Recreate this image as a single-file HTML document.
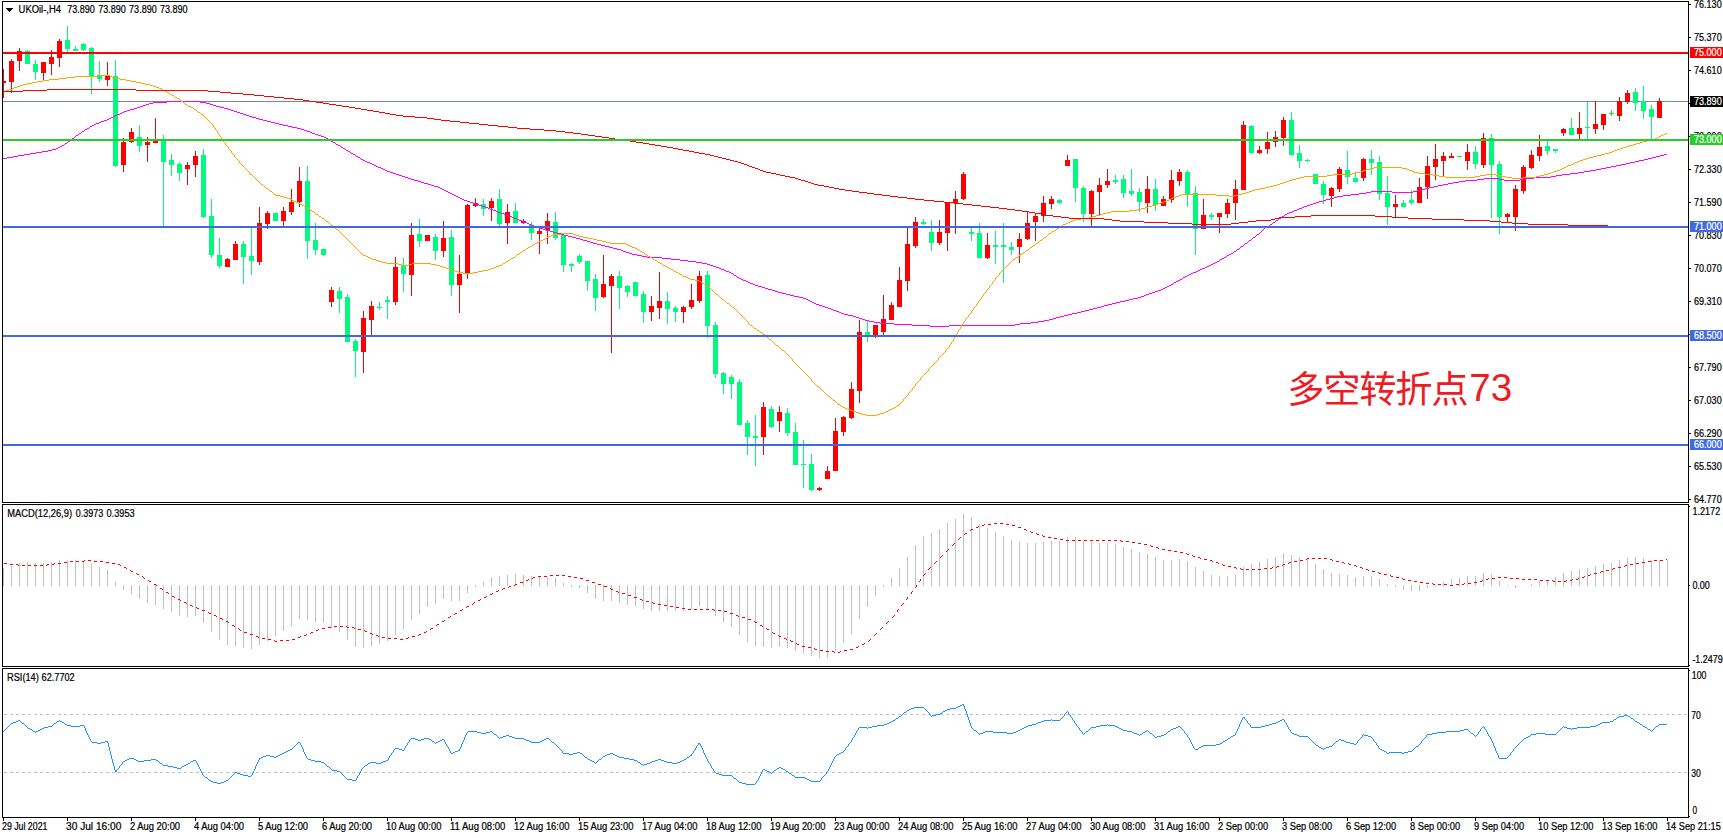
<!DOCTYPE html>
<html lang="zh"><head><meta charset="utf-8"><title>UKOil H4</title>
<style>html,body{margin:0;padding:0;background:#fff;overflow:hidden}svg{display:block}text{font-family:"Liberation Sans","Noto Sans CJK SC",sans-serif;font-size:10px;fill:#000;stroke:#000;stroke-width:.22px}.cn{font-family:"Liberation Sans","Noto Sans CJK SC",sans-serif;font-size:37.3px;font-weight:400;letter-spacing:-1.3px;fill:#ED1C24;stroke:none}.w{fill:#fff;stroke:#fff}</style></head><body>
<svg width="1723" height="838" viewBox="0 0 1723 838">
<rect width="1723" height="838" fill="#fff"/>
<g shape-rendering="crispEdges">
<rect x="3" y="101" width="1685" height="1" fill="#778899"/>
<rect x="3" y="69" width="1" height="29" fill="#FF0000"/>
<rect x="3" y="81" width="3" height="2" fill="#FF0000"/>
<rect x="11" y="59" width="1" height="34" fill="#FF0000"/>
<rect x="9" y="61" width="5" height="21" fill="#FF0000"/>
<rect x="19" y="48" width="1" height="23" fill="#FF0000"/>
<rect x="17" y="51" width="5" height="10" fill="#FF0000"/>
<rect x="27" y="50" width="1" height="14" fill="#00FA7D"/>
<rect x="25" y="51" width="5" height="13" fill="#00FA7D"/>
<rect x="35" y="60" width="1" height="20" fill="#00FA7D"/>
<rect x="33" y="64" width="5" height="8" fill="#00FA7D"/>
<rect x="43" y="62" width="1" height="19" fill="#FF0000"/>
<rect x="41" y="62" width="5" height="11" fill="#FF0000"/>
<rect x="51" y="50" width="1" height="25" fill="#FF0000"/>
<rect x="49" y="57" width="5" height="7" fill="#FF0000"/>
<rect x="59" y="39" width="1" height="28" fill="#FF0000"/>
<rect x="57" y="41" width="5" height="17" fill="#FF0000"/>
<rect x="67" y="26" width="1" height="26" fill="#00FA7D"/>
<rect x="65" y="40" width="5" height="9" fill="#00FA7D"/>
<rect x="75" y="46" width="1" height="4" fill="#00FA7D"/>
<rect x="73" y="49" width="5" height="2" fill="#00FA7D"/>
<rect x="83" y="43" width="1" height="8" fill="#00FA7D"/>
<rect x="81" y="44" width="5" height="6" fill="#00FA7D"/>
<rect x="91" y="47" width="1" height="47" fill="#00FA7D"/>
<rect x="89" y="48" width="5" height="28" fill="#00FA7D"/>
<rect x="99" y="61" width="1" height="21" fill="#00FA7D"/>
<rect x="97" y="75" width="5" height="4" fill="#00FA7D"/>
<rect x="107" y="62" width="1" height="24" fill="#FF0000"/>
<rect x="105" y="75" width="5" height="5" fill="#FF0000"/>
<rect x="115" y="60" width="1" height="107" fill="#00FA7D"/>
<rect x="113" y="76" width="5" height="90" fill="#00FA7D"/>
<rect x="123" y="138" width="1" height="34" fill="#FF0000"/>
<rect x="121" y="142" width="5" height="23" fill="#FF0000"/>
<rect x="131" y="128" width="1" height="15" fill="#FF0000"/>
<rect x="129" y="132" width="5" height="10" fill="#FF0000"/>
<rect x="139" y="125" width="1" height="27" fill="#00FA7D"/>
<rect x="137" y="137" width="5" height="9" fill="#00FA7D"/>
<rect x="147" y="137" width="1" height="25" fill="#FF0000"/>
<rect x="145" y="142" width="5" height="3" fill="#FF0000"/>
<rect x="155" y="118" width="1" height="25" fill="#FF0000"/>
<rect x="153" y="141" width="5" height="2" fill="#FF0000"/>
<rect x="163" y="135" width="1" height="91" fill="#00FA7D"/>
<rect x="161" y="140" width="5" height="22" fill="#00FA7D"/>
<rect x="171" y="154" width="1" height="22" fill="#00FA7D"/>
<rect x="169" y="160" width="5" height="5" fill="#00FA7D"/>
<rect x="179" y="162" width="1" height="19" fill="#00FA7D"/>
<rect x="177" y="164" width="5" height="9" fill="#00FA7D"/>
<rect x="187" y="162" width="1" height="23" fill="#FF0000"/>
<rect x="185" y="165" width="5" height="4" fill="#FF0000"/>
<rect x="195" y="151" width="1" height="26" fill="#FF0000"/>
<rect x="193" y="156" width="5" height="9" fill="#FF0000"/>
<rect x="203" y="149" width="1" height="69" fill="#00FA7D"/>
<rect x="201" y="155" width="5" height="62" fill="#00FA7D"/>
<rect x="211" y="199" width="1" height="59" fill="#00FA7D"/>
<rect x="209" y="216" width="5" height="39" fill="#00FA7D"/>
<rect x="219" y="238" width="1" height="30" fill="#00FA7D"/>
<rect x="217" y="255" width="5" height="11" fill="#00FA7D"/>
<rect x="227" y="258" width="1" height="9" fill="#FF0000"/>
<rect x="225" y="259" width="5" height="8" fill="#FF0000"/>
<rect x="235" y="241" width="1" height="19" fill="#FF0000"/>
<rect x="233" y="244" width="5" height="16" fill="#FF0000"/>
<rect x="243" y="241" width="1" height="43" fill="#00FA7D"/>
<rect x="241" y="244" width="5" height="13" fill="#00FA7D"/>
<rect x="251" y="228" width="1" height="47" fill="#00FA7D"/>
<rect x="249" y="256" width="5" height="5" fill="#00FA7D"/>
<rect x="259" y="207" width="1" height="58" fill="#FF0000"/>
<rect x="257" y="223" width="5" height="39" fill="#FF0000"/>
<rect x="267" y="211" width="1" height="18" fill="#FF0000"/>
<rect x="265" y="213" width="5" height="11" fill="#FF0000"/>
<rect x="275" y="213" width="1" height="8" fill="#00FA7D"/>
<rect x="273" y="213" width="5" height="8" fill="#00FA7D"/>
<rect x="283" y="207" width="1" height="19" fill="#FF0000"/>
<rect x="281" y="211" width="5" height="10" fill="#FF0000"/>
<rect x="291" y="189" width="1" height="26" fill="#FF0000"/>
<rect x="289" y="202" width="5" height="10" fill="#FF0000"/>
<rect x="299" y="167" width="1" height="40" fill="#FF0000"/>
<rect x="297" y="181" width="5" height="21" fill="#FF0000"/>
<rect x="307" y="166" width="1" height="93" fill="#00FA7D"/>
<rect x="305" y="181" width="5" height="60" fill="#00FA7D"/>
<rect x="315" y="223" width="1" height="32" fill="#00FA7D"/>
<rect x="313" y="240" width="5" height="10" fill="#00FA7D"/>
<rect x="323" y="249" width="1" height="7" fill="#00FA7D"/>
<rect x="321" y="249" width="5" height="6" fill="#00FA7D"/>
<rect x="331" y="287" width="1" height="20" fill="#FF0000"/>
<rect x="329" y="290" width="5" height="12" fill="#FF0000"/>
<rect x="339" y="287" width="1" height="26" fill="#00FA7D"/>
<rect x="337" y="291" width="5" height="8" fill="#00FA7D"/>
<rect x="347" y="294" width="1" height="48" fill="#00FA7D"/>
<rect x="345" y="297" width="5" height="45" fill="#00FA7D"/>
<rect x="355" y="339" width="1" height="38" fill="#00FA7D"/>
<rect x="353" y="341" width="5" height="10" fill="#00FA7D"/>
<rect x="363" y="311" width="1" height="62" fill="#FF0000"/>
<rect x="361" y="318" width="5" height="34" fill="#FF0000"/>
<rect x="371" y="301" width="1" height="34" fill="#FF0000"/>
<rect x="369" y="306" width="5" height="14" fill="#FF0000"/>
<rect x="379" y="302" width="1" height="8" fill="#00FA7D"/>
<rect x="377" y="307" width="5" height="1" fill="#00FA7D"/>
<rect x="387" y="296" width="1" height="23" fill="#00FA7D"/>
<rect x="385" y="300" width="5" height="2" fill="#00FA7D"/>
<rect x="395" y="257" width="1" height="48" fill="#FF0000"/>
<rect x="393" y="267" width="5" height="35" fill="#FF0000"/>
<rect x="403" y="258" width="1" height="34" fill="#00FA7D"/>
<rect x="401" y="265" width="5" height="9" fill="#00FA7D"/>
<rect x="411" y="223" width="1" height="73" fill="#FF0000"/>
<rect x="409" y="235" width="5" height="40" fill="#FF0000"/>
<rect x="419" y="219" width="1" height="28" fill="#00FA7D"/>
<rect x="417" y="234" width="5" height="7" fill="#00FA7D"/>
<rect x="427" y="235" width="1" height="6" fill="#FF0000"/>
<rect x="425" y="235" width="5" height="6" fill="#FF0000"/>
<rect x="435" y="234" width="1" height="26" fill="#00FA7D"/>
<rect x="433" y="237" width="5" height="14" fill="#00FA7D"/>
<rect x="443" y="221" width="1" height="36" fill="#FF0000"/>
<rect x="441" y="238" width="5" height="13" fill="#FF0000"/>
<rect x="451" y="230" width="1" height="66" fill="#00FA7D"/>
<rect x="449" y="237" width="5" height="48" fill="#00FA7D"/>
<rect x="459" y="255" width="1" height="58" fill="#FF0000"/>
<rect x="457" y="274" width="5" height="11" fill="#FF0000"/>
<rect x="467" y="204" width="1" height="75" fill="#FF0000"/>
<rect x="465" y="205" width="5" height="69" fill="#FF0000"/>
<rect x="475" y="198" width="1" height="9" fill="#FF0000"/>
<rect x="473" y="203" width="5" height="3" fill="#FF0000"/>
<rect x="483" y="199" width="1" height="17" fill="#00FA7D"/>
<rect x="481" y="204" width="5" height="5" fill="#00FA7D"/>
<rect x="491" y="198" width="1" height="23" fill="#FF0000"/>
<rect x="489" y="201" width="5" height="7" fill="#FF0000"/>
<rect x="499" y="189" width="1" height="37" fill="#00FA7D"/>
<rect x="497" y="199" width="5" height="25" fill="#00FA7D"/>
<rect x="507" y="204" width="1" height="40" fill="#FF0000"/>
<rect x="505" y="212" width="5" height="11" fill="#FF0000"/>
<rect x="515" y="203" width="1" height="20" fill="#00FA7D"/>
<rect x="513" y="211" width="5" height="12" fill="#00FA7D"/>
<rect x="523" y="219" width="1" height="5" fill="#FF0000"/>
<rect x="521" y="221" width="5" height="2" fill="#FF0000"/>
<rect x="531" y="222" width="1" height="18" fill="#00FA7D"/>
<rect x="529" y="225" width="5" height="8" fill="#00FA7D"/>
<rect x="539" y="228" width="1" height="26" fill="#FF0000"/>
<rect x="537" y="231" width="5" height="3" fill="#FF0000"/>
<rect x="547" y="213" width="1" height="31" fill="#FF0000"/>
<rect x="545" y="221" width="5" height="9" fill="#FF0000"/>
<rect x="555" y="212" width="1" height="28" fill="#00FA7D"/>
<rect x="553" y="222" width="5" height="16" fill="#00FA7D"/>
<rect x="563" y="235" width="1" height="37" fill="#00FA7D"/>
<rect x="561" y="235" width="5" height="30" fill="#00FA7D"/>
<rect x="571" y="263" width="1" height="9" fill="#00FA7D"/>
<rect x="569" y="264" width="5" height="2" fill="#00FA7D"/>
<rect x="579" y="254" width="1" height="10" fill="#00FA7D"/>
<rect x="577" y="256" width="5" height="6" fill="#00FA7D"/>
<rect x="587" y="261" width="1" height="30" fill="#00FA7D"/>
<rect x="585" y="261" width="5" height="20" fill="#00FA7D"/>
<rect x="595" y="274" width="1" height="37" fill="#00FA7D"/>
<rect x="593" y="279" width="5" height="19" fill="#00FA7D"/>
<rect x="603" y="255" width="1" height="43" fill="#FF0000"/>
<rect x="601" y="284" width="5" height="13" fill="#FF0000"/>
<rect x="611" y="274" width="1" height="79" fill="#FF0000"/>
<rect x="609" y="276" width="5" height="10" fill="#FF0000"/>
<rect x="619" y="271" width="1" height="38" fill="#00FA7D"/>
<rect x="617" y="276" width="5" height="12" fill="#00FA7D"/>
<rect x="627" y="285" width="1" height="12" fill="#00FA7D"/>
<rect x="625" y="286" width="5" height="6" fill="#00FA7D"/>
<rect x="635" y="282" width="1" height="14" fill="#00FA7D"/>
<rect x="633" y="282" width="5" height="14" fill="#00FA7D"/>
<rect x="643" y="291" width="1" height="32" fill="#00FA7D"/>
<rect x="641" y="294" width="5" height="18" fill="#00FA7D"/>
<rect x="651" y="296" width="1" height="25" fill="#FF0000"/>
<rect x="649" y="306" width="5" height="6" fill="#FF0000"/>
<rect x="659" y="272" width="1" height="47" fill="#FF0000"/>
<rect x="657" y="301" width="5" height="7" fill="#FF0000"/>
<rect x="667" y="292" width="1" height="32" fill="#00FA7D"/>
<rect x="665" y="301" width="5" height="8" fill="#00FA7D"/>
<rect x="675" y="306" width="1" height="16" fill="#00FA7D"/>
<rect x="673" y="308" width="5" height="4" fill="#00FA7D"/>
<rect x="683" y="306" width="1" height="17" fill="#FF0000"/>
<rect x="681" y="307" width="5" height="5" fill="#FF0000"/>
<rect x="691" y="284" width="1" height="25" fill="#FF0000"/>
<rect x="689" y="300" width="5" height="7" fill="#FF0000"/>
<rect x="699" y="271" width="1" height="32" fill="#FF0000"/>
<rect x="697" y="276" width="5" height="25" fill="#FF0000"/>
<rect x="707" y="271" width="1" height="67" fill="#00FA7D"/>
<rect x="705" y="275" width="5" height="51" fill="#00FA7D"/>
<rect x="715" y="322" width="1" height="56" fill="#00FA7D"/>
<rect x="713" y="325" width="5" height="49" fill="#00FA7D"/>
<rect x="723" y="372" width="1" height="22" fill="#00FA7D"/>
<rect x="721" y="373" width="5" height="11" fill="#00FA7D"/>
<rect x="731" y="375" width="1" height="24" fill="#00FA7D"/>
<rect x="729" y="377" width="5" height="7" fill="#00FA7D"/>
<rect x="739" y="379" width="1" height="46" fill="#00FA7D"/>
<rect x="737" y="382" width="5" height="43" fill="#00FA7D"/>
<rect x="747" y="420" width="1" height="35" fill="#00FA7D"/>
<rect x="745" y="423" width="5" height="14" fill="#00FA7D"/>
<rect x="755" y="415" width="1" height="51" fill="#00FA7D"/>
<rect x="753" y="436" width="5" height="2" fill="#00FA7D"/>
<rect x="763" y="402" width="1" height="53" fill="#FF0000"/>
<rect x="761" y="407" width="5" height="30" fill="#FF0000"/>
<rect x="771" y="406" width="1" height="22" fill="#00FA7D"/>
<rect x="769" y="409" width="5" height="18" fill="#00FA7D"/>
<rect x="779" y="406" width="1" height="26" fill="#FF0000"/>
<rect x="777" y="412" width="5" height="9" fill="#FF0000"/>
<rect x="787" y="408" width="1" height="28" fill="#00FA7D"/>
<rect x="785" y="413" width="5" height="20" fill="#00FA7D"/>
<rect x="795" y="423" width="1" height="42" fill="#00FA7D"/>
<rect x="793" y="432" width="5" height="33" fill="#00FA7D"/>
<rect x="803" y="440" width="1" height="48" fill="#00FA7D"/>
<rect x="801" y="464" width="5" height="1" fill="#00FA7D"/>
<rect x="811" y="454" width="1" height="37" fill="#00FA7D"/>
<rect x="809" y="464" width="5" height="26" fill="#00FA7D"/>
<rect x="819" y="487" width="1" height="4" fill="#FF0000"/>
<rect x="817" y="488" width="5" height="2" fill="#FF0000"/>
<rect x="827" y="466" width="1" height="13" fill="#FF0000"/>
<rect x="825" y="471" width="5" height="8" fill="#FF0000"/>
<rect x="835" y="418" width="1" height="53" fill="#FF0000"/>
<rect x="833" y="431" width="5" height="40" fill="#FF0000"/>
<rect x="843" y="416" width="1" height="20" fill="#FF0000"/>
<rect x="841" y="417" width="5" height="15" fill="#FF0000"/>
<rect x="851" y="382" width="1" height="37" fill="#FF0000"/>
<rect x="849" y="389" width="5" height="29" fill="#FF0000"/>
<rect x="859" y="320" width="1" height="83" fill="#FF0000"/>
<rect x="857" y="332" width="5" height="59" fill="#FF0000"/>
<rect x="867" y="321" width="1" height="21" fill="#00FA7D"/>
<rect x="865" y="332" width="5" height="4" fill="#00FA7D"/>
<rect x="875" y="325" width="1" height="13" fill="#FF0000"/>
<rect x="873" y="325" width="5" height="11" fill="#FF0000"/>
<rect x="883" y="295" width="1" height="40" fill="#FF0000"/>
<rect x="881" y="319" width="5" height="13" fill="#FF0000"/>
<rect x="891" y="302" width="1" height="18" fill="#FF0000"/>
<rect x="889" y="305" width="5" height="15" fill="#FF0000"/>
<rect x="899" y="267" width="1" height="40" fill="#FF0000"/>
<rect x="897" y="280" width="5" height="27" fill="#FF0000"/>
<rect x="907" y="228" width="1" height="63" fill="#FF0000"/>
<rect x="905" y="244" width="5" height="37" fill="#FF0000"/>
<rect x="915" y="217" width="1" height="31" fill="#FF0000"/>
<rect x="913" y="222" width="5" height="24" fill="#FF0000"/>
<rect x="923" y="219" width="1" height="6" fill="#00FA7D"/>
<rect x="921" y="222" width="5" height="2" fill="#00FA7D"/>
<rect x="931" y="220" width="1" height="31" fill="#00FA7D"/>
<rect x="929" y="232" width="5" height="11" fill="#00FA7D"/>
<rect x="939" y="220" width="1" height="25" fill="#FF0000"/>
<rect x="937" y="232" width="5" height="11" fill="#FF0000"/>
<rect x="947" y="202" width="1" height="49" fill="#FF0000"/>
<rect x="945" y="203" width="5" height="30" fill="#FF0000"/>
<rect x="955" y="191" width="1" height="43" fill="#FF0000"/>
<rect x="953" y="199" width="5" height="4" fill="#FF0000"/>
<rect x="963" y="172" width="1" height="28" fill="#FF0000"/>
<rect x="961" y="174" width="5" height="25" fill="#FF0000"/>
<rect x="971" y="228" width="1" height="13" fill="#00FA7D"/>
<rect x="969" y="232" width="5" height="2" fill="#00FA7D"/>
<rect x="979" y="223" width="1" height="35" fill="#00FA7D"/>
<rect x="977" y="233" width="5" height="25" fill="#00FA7D"/>
<rect x="987" y="233" width="1" height="26" fill="#FF0000"/>
<rect x="985" y="245" width="5" height="13" fill="#FF0000"/>
<rect x="995" y="231" width="1" height="33" fill="#00FA7D"/>
<rect x="993" y="245" width="5" height="2" fill="#00FA7D"/>
<rect x="1003" y="223" width="1" height="60" fill="#00FA7D"/>
<rect x="1001" y="245" width="5" height="2" fill="#00FA7D"/>
<rect x="1011" y="242" width="1" height="13" fill="#00FA7D"/>
<rect x="1009" y="247" width="5" height="3" fill="#00FA7D"/>
<rect x="1019" y="233" width="1" height="30" fill="#FF0000"/>
<rect x="1017" y="239" width="5" height="8" fill="#FF0000"/>
<rect x="1027" y="212" width="1" height="28" fill="#FF0000"/>
<rect x="1025" y="223" width="5" height="16" fill="#FF0000"/>
<rect x="1035" y="214" width="1" height="27" fill="#FF0000"/>
<rect x="1033" y="216" width="5" height="6" fill="#FF0000"/>
<rect x="1043" y="196" width="1" height="26" fill="#FF0000"/>
<rect x="1041" y="203" width="5" height="13" fill="#FF0000"/>
<rect x="1051" y="196" width="1" height="13" fill="#FF0000"/>
<rect x="1049" y="199" width="5" height="5" fill="#FF0000"/>
<rect x="1059" y="199" width="1" height="5" fill="#00FA7D"/>
<rect x="1057" y="200" width="5" height="3" fill="#00FA7D"/>
<rect x="1067" y="155" width="1" height="11" fill="#FF0000"/>
<rect x="1065" y="160" width="5" height="6" fill="#FF0000"/>
<rect x="1075" y="159" width="1" height="43" fill="#00FA7D"/>
<rect x="1073" y="159" width="5" height="29" fill="#00FA7D"/>
<rect x="1083" y="186" width="1" height="36" fill="#00FA7D"/>
<rect x="1081" y="188" width="5" height="26" fill="#00FA7D"/>
<rect x="1091" y="190" width="1" height="36" fill="#FF0000"/>
<rect x="1089" y="191" width="5" height="23" fill="#FF0000"/>
<rect x="1099" y="178" width="1" height="38" fill="#FF0000"/>
<rect x="1097" y="185" width="5" height="7" fill="#FF0000"/>
<rect x="1107" y="169" width="1" height="19" fill="#FF0000"/>
<rect x="1105" y="181" width="5" height="4" fill="#FF0000"/>
<rect x="1115" y="175" width="1" height="9" fill="#00FA7D"/>
<rect x="1113" y="180" width="5" height="2" fill="#00FA7D"/>
<rect x="1123" y="175" width="1" height="23" fill="#00FA7D"/>
<rect x="1121" y="179" width="5" height="14" fill="#00FA7D"/>
<rect x="1131" y="169" width="1" height="27" fill="#00FA7D"/>
<rect x="1129" y="191" width="5" height="3" fill="#00FA7D"/>
<rect x="1139" y="188" width="1" height="24" fill="#00FA7D"/>
<rect x="1137" y="192" width="5" height="10" fill="#00FA7D"/>
<rect x="1147" y="176" width="1" height="37" fill="#FF0000"/>
<rect x="1145" y="189" width="5" height="14" fill="#FF0000"/>
<rect x="1155" y="179" width="1" height="32" fill="#00FA7D"/>
<rect x="1153" y="189" width="5" height="16" fill="#00FA7D"/>
<rect x="1163" y="196" width="1" height="10" fill="#FF0000"/>
<rect x="1161" y="199" width="5" height="7" fill="#FF0000"/>
<rect x="1171" y="170" width="1" height="33" fill="#FF0000"/>
<rect x="1169" y="180" width="5" height="20" fill="#FF0000"/>
<rect x="1179" y="169" width="1" height="17" fill="#FF0000"/>
<rect x="1177" y="172" width="5" height="9" fill="#FF0000"/>
<rect x="1187" y="170" width="1" height="37" fill="#00FA7D"/>
<rect x="1185" y="172" width="5" height="22" fill="#00FA7D"/>
<rect x="1195" y="186" width="1" height="69" fill="#00FA7D"/>
<rect x="1193" y="193" width="5" height="36" fill="#00FA7D"/>
<rect x="1203" y="199" width="1" height="30" fill="#FF0000"/>
<rect x="1201" y="215" width="5" height="14" fill="#FF0000"/>
<rect x="1211" y="213" width="1" height="7" fill="#00FA7D"/>
<rect x="1209" y="215" width="5" height="2" fill="#00FA7D"/>
<rect x="1219" y="213" width="1" height="20" fill="#FF0000"/>
<rect x="1217" y="213" width="5" height="4" fill="#FF0000"/>
<rect x="1227" y="199" width="1" height="19" fill="#FF0000"/>
<rect x="1225" y="203" width="5" height="11" fill="#FF0000"/>
<rect x="1235" y="180" width="1" height="40" fill="#FF0000"/>
<rect x="1233" y="189" width="5" height="14" fill="#FF0000"/>
<rect x="1243" y="121" width="1" height="69" fill="#FF0000"/>
<rect x="1241" y="125" width="5" height="65" fill="#FF0000"/>
<rect x="1251" y="125" width="1" height="28" fill="#00FA7D"/>
<rect x="1249" y="126" width="5" height="27" fill="#00FA7D"/>
<rect x="1259" y="146" width="1" height="8" fill="#FF0000"/>
<rect x="1257" y="150" width="5" height="3" fill="#FF0000"/>
<rect x="1267" y="132" width="1" height="22" fill="#FF0000"/>
<rect x="1265" y="142" width="5" height="7" fill="#FF0000"/>
<rect x="1275" y="131" width="1" height="16" fill="#FF0000"/>
<rect x="1273" y="137" width="5" height="5" fill="#FF0000"/>
<rect x="1283" y="117" width="1" height="29" fill="#FF0000"/>
<rect x="1281" y="120" width="5" height="18" fill="#FF0000"/>
<rect x="1291" y="112" width="1" height="43" fill="#00FA7D"/>
<rect x="1289" y="120" width="5" height="35" fill="#00FA7D"/>
<rect x="1299" y="145" width="1" height="23" fill="#00FA7D"/>
<rect x="1297" y="153" width="5" height="8" fill="#00FA7D"/>
<rect x="1307" y="159" width="1" height="3" fill="#00FA7D"/>
<rect x="1305" y="160" width="5" height="1" fill="#00FA7D"/>
<rect x="1315" y="174" width="1" height="10" fill="#00FA7D"/>
<rect x="1313" y="174" width="5" height="10" fill="#00FA7D"/>
<rect x="1323" y="181" width="1" height="23" fill="#00FA7D"/>
<rect x="1321" y="184" width="5" height="11" fill="#00FA7D"/>
<rect x="1331" y="187" width="1" height="20" fill="#FF0000"/>
<rect x="1329" y="188" width="5" height="8" fill="#FF0000"/>
<rect x="1339" y="167" width="1" height="25" fill="#FF0000"/>
<rect x="1337" y="169" width="5" height="20" fill="#FF0000"/>
<rect x="1347" y="151" width="1" height="33" fill="#00FA7D"/>
<rect x="1345" y="170" width="5" height="7" fill="#00FA7D"/>
<rect x="1355" y="172" width="1" height="11" fill="#00FA7D"/>
<rect x="1353" y="178" width="5" height="4" fill="#00FA7D"/>
<rect x="1363" y="158" width="1" height="23" fill="#FF0000"/>
<rect x="1361" y="159" width="5" height="19" fill="#FF0000"/>
<rect x="1371" y="150" width="1" height="25" fill="#00FA7D"/>
<rect x="1369" y="159" width="5" height="4" fill="#00FA7D"/>
<rect x="1379" y="156" width="1" height="44" fill="#00FA7D"/>
<rect x="1377" y="162" width="5" height="32" fill="#00FA7D"/>
<rect x="1387" y="176" width="1" height="49" fill="#00FA7D"/>
<rect x="1385" y="193" width="5" height="14" fill="#00FA7D"/>
<rect x="1395" y="195" width="1" height="23" fill="#FF0000"/>
<rect x="1393" y="204" width="5" height="3" fill="#FF0000"/>
<rect x="1403" y="200" width="1" height="7" fill="#00FA7D"/>
<rect x="1401" y="203" width="5" height="4" fill="#00FA7D"/>
<rect x="1411" y="190" width="1" height="15" fill="#00FA7D"/>
<rect x="1409" y="200" width="5" height="3" fill="#00FA7D"/>
<rect x="1419" y="178" width="1" height="25" fill="#FF0000"/>
<rect x="1417" y="187" width="5" height="16" fill="#FF0000"/>
<rect x="1427" y="156" width="1" height="43" fill="#FF0000"/>
<rect x="1425" y="166" width="5" height="21" fill="#FF0000"/>
<rect x="1435" y="144" width="1" height="36" fill="#FF0000"/>
<rect x="1433" y="159" width="5" height="8" fill="#FF0000"/>
<rect x="1443" y="152" width="1" height="24" fill="#FF0000"/>
<rect x="1441" y="156" width="5" height="5" fill="#FF0000"/>
<rect x="1451" y="153" width="1" height="5" fill="#FF0000"/>
<rect x="1449" y="156" width="5" height="2" fill="#FF0000"/>
<rect x="1459" y="156" width="1" height="1" fill="#00FF00"/>
<rect x="1457" y="156" width="5" height="1" fill="#00FF00"/>
<rect x="1467" y="144" width="1" height="26" fill="#FF0000"/>
<rect x="1465" y="152" width="5" height="9" fill="#FF0000"/>
<rect x="1475" y="146" width="1" height="23" fill="#00FA7D"/>
<rect x="1473" y="152" width="5" height="12" fill="#00FA7D"/>
<rect x="1483" y="133" width="1" height="35" fill="#FF0000"/>
<rect x="1481" y="138" width="5" height="27" fill="#FF0000"/>
<rect x="1491" y="134" width="1" height="84" fill="#00FA7D"/>
<rect x="1489" y="138" width="5" height="27" fill="#00FA7D"/>
<rect x="1499" y="161" width="1" height="73" fill="#00FA7D"/>
<rect x="1497" y="164" width="5" height="53" fill="#00FA7D"/>
<rect x="1507" y="213" width="1" height="9" fill="#FF0000"/>
<rect x="1505" y="214" width="5" height="3" fill="#FF0000"/>
<rect x="1515" y="185" width="1" height="46" fill="#FF0000"/>
<rect x="1513" y="189" width="5" height="28" fill="#FF0000"/>
<rect x="1523" y="165" width="1" height="29" fill="#FF0000"/>
<rect x="1521" y="167" width="5" height="24" fill="#FF0000"/>
<rect x="1531" y="150" width="1" height="19" fill="#FF0000"/>
<rect x="1529" y="155" width="5" height="13" fill="#FF0000"/>
<rect x="1539" y="135" width="1" height="26" fill="#FF0000"/>
<rect x="1537" y="147" width="5" height="9" fill="#FF0000"/>
<rect x="1547" y="141" width="1" height="14" fill="#00FA7D"/>
<rect x="1545" y="146" width="5" height="5" fill="#00FA7D"/>
<rect x="1555" y="149" width="1" height="4" fill="#00FA7D"/>
<rect x="1553" y="149" width="5" height="2" fill="#00FA7D"/>
<rect x="1563" y="128" width="1" height="8" fill="#FF0000"/>
<rect x="1561" y="129" width="5" height="4" fill="#FF0000"/>
<rect x="1571" y="118" width="1" height="17" fill="#00FA7D"/>
<rect x="1569" y="128" width="5" height="7" fill="#00FA7D"/>
<rect x="1579" y="112" width="1" height="27" fill="#FF0000"/>
<rect x="1577" y="128" width="5" height="6" fill="#FF0000"/>
<rect x="1587" y="102" width="1" height="37" fill="#00FA7D"/>
<rect x="1585" y="127" width="5" height="1" fill="#00FA7D"/>
<rect x="1595" y="101" width="1" height="33" fill="#FF0000"/>
<rect x="1593" y="124" width="5" height="5" fill="#FF0000"/>
<rect x="1603" y="114" width="1" height="16" fill="#FF0000"/>
<rect x="1601" y="114" width="5" height="11" fill="#FF0000"/>
<rect x="1611" y="110" width="1" height="6" fill="#00FF00"/>
<rect x="1609" y="113" width="5" height="1" fill="#00FF00"/>
<rect x="1619" y="97" width="1" height="24" fill="#FF0000"/>
<rect x="1617" y="101" width="5" height="15" fill="#FF0000"/>
<rect x="1627" y="90" width="1" height="14" fill="#FF0000"/>
<rect x="1625" y="93" width="5" height="9" fill="#FF0000"/>
<rect x="1635" y="88" width="1" height="23" fill="#00FA7D"/>
<rect x="1633" y="92" width="5" height="11" fill="#00FA7D"/>
<rect x="1643" y="86" width="1" height="33" fill="#00FA7D"/>
<rect x="1641" y="101" width="5" height="10" fill="#00FA7D"/>
<rect x="1651" y="105" width="1" height="34" fill="#00FA7D"/>
<rect x="1649" y="109" width="5" height="8" fill="#00FA7D"/>
<rect x="1659" y="98" width="1" height="20" fill="#FF0000"/>
<rect x="1657" y="101" width="5" height="17" fill="#FF0000"/>
<rect x="1665" y="101" width="5" height="1" fill="#00FF00"/>
<path d="M167 101h33v1h-33zM153 102h14v1h-14zM200 102h6v1h-6zM149 103h4v1h-4zM206 103h4v1h-4zM146 104h3v1h-3zM210 104h3v1h-3zM143 105h3v1h-3zM213 105h3v1h-3zM140 106h3v1h-3zM216 106h4v1h-4zM137 107h3v1h-3zM220 107h4v1h-4zM134 108h3v1h-3zM224 108h4v1h-4zM130 109h4v1h-4zM228 109h3v1h-3zM127 110h3v1h-3zM231 110h3v1h-3zM124 111h3v1h-3zM234 111h3v1h-3zM122 112h2v1h-2zM237 112h3v1h-3zM120 113h2v1h-2zM240 113h3v1h-3zM117 114h3v1h-3zM243 114h3v1h-3zM115 115h2v1h-2zM246 115h3v1h-3zM113 116h2v1h-2zM249 116h3v1h-3zM111 117h2v1h-2zM252 117h4v1h-4zM109 118h2v1h-2zM256 118h3v1h-3zM107 119h2v1h-2zM259 119h4v1h-4zM104 120h3v1h-3zM263 120h4v1h-4zM101 121h3v1h-3zM267 121h4v1h-4zM99 122h2v1h-2zM271 122h4v1h-4zM96 123h3v1h-3zM275 123h4v1h-4zM94 124h2v1h-2zM279 124h4v1h-4zM92 125h2v1h-2zM283 125h5v1h-5zM90 126h2v1h-2zM288 126h4v1h-4zM89 127h1v1h-1zM292 127h5v1h-5zM87 128h2v1h-2zM297 128h4v1h-4zM85 129h2v1h-2zM301 129h3v1h-3zM84 130h1v1h-1zM304 130h3v1h-3zM82 131h2v1h-2zM307 131h3v1h-3zM81 132h1v1h-1zM310 132h2v1h-2zM79 133h2v1h-2zM312 133h3v1h-3zM78 134h1v1h-1zM315 134h3v1h-3zM76 135h2v1h-2zM318 135h3v1h-3zM75 136h1v1h-1zM321 136h3v1h-3zM74 137h1v1h-1zM324 137h2v1h-2zM72 138h2v1h-2zM326 138h2v1h-2zM71 139h1v1h-1zM328 139h2v1h-2zM70 140h1v1h-1zM330 140h1v1h-1zM68 141h2v1h-2zM331 141h2v1h-2zM67 142h1v1h-1zM333 142h2v1h-2zM65 143h2v1h-2zM335 143h1v1h-1zM64 144h1v1h-1zM336 144h2v1h-2zM62 145h2v1h-2zM338 145h2v1h-2zM60 146h2v1h-2zM340 146h1v1h-1zM58 147h2v1h-2zM341 147h2v1h-2zM56 148h2v1h-2zM343 148h2v1h-2zM52 149h4v1h-4zM345 149h1v1h-1zM48 150h4v1h-4zM346 150h2v1h-2zM42 151h6v1h-6zM348 151h2v1h-2zM36 152h6v1h-6zM350 152h1v1h-1zM30 153h6v1h-6zM351 153h2v1h-2zM24 154h6v1h-6zM353 154h2v1h-2zM1664 154h3v1h-3zM18 155h6v1h-6zM355 155h1v1h-1zM1660 155h4v1h-4zM13 156h5v1h-5zM356 156h2v1h-2zM1656 156h4v1h-4zM7 157h6v1h-6zM358 157h2v1h-2zM1652 157h4v1h-4zM3 158h4v1h-4zM360 158h1v1h-1zM1648 158h4v1h-4zM361 159h2v1h-2zM1644 159h4v1h-4zM363 160h2v1h-2zM1639 160h5v1h-5zM365 161h2v1h-2zM1635 161h4v1h-4zM367 162h3v1h-3zM1630 162h5v1h-5zM370 163h2v1h-2zM1626 163h4v1h-4zM372 164h2v1h-2zM1621 164h5v1h-5zM374 165h2v1h-2zM1616 165h5v1h-5zM376 166h2v1h-2zM1611 166h5v1h-5zM378 167h3v1h-3zM1606 167h5v1h-5zM381 168h2v1h-2zM1601 168h5v1h-5zM383 169h2v1h-2zM1596 169h5v1h-5zM385 170h2v1h-2zM1590 170h6v1h-6zM387 171h3v1h-3zM1584 171h6v1h-6zM390 172h3v1h-3zM1578 172h6v1h-6zM393 173h3v1h-3zM1570 173h8v1h-8zM396 174h3v1h-3zM1562 174h8v1h-8zM399 175h3v1h-3zM1556 175h6v1h-6zM402 176h3v1h-3zM1551 176h5v1h-5zM405 177h3v1h-3zM1534 177h17v1h-17zM408 178h3v1h-3zM1484 178h15v1h-15zM1524 178h10v1h-10zM411 179h3v1h-3zM1477 179h7v1h-7zM1499 179h5v1h-5zM1520 179h4v1h-4zM414 180h4v1h-4zM1465 180h12v1h-12zM1504 180h16v1h-16zM418 181h3v1h-3zM1459 181h6v1h-6zM421 182h3v1h-3zM1453 182h6v1h-6zM424 183h4v1h-4zM1448 183h5v1h-5zM428 184h3v1h-3zM1443 184h5v1h-5zM431 185h3v1h-3zM1438 185h5v1h-5zM434 186h4v1h-4zM1434 186h4v1h-4zM438 187h2v1h-2zM1429 187h5v1h-5zM440 188h2v1h-2zM1425 188h4v1h-4zM442 189h2v1h-2zM1421 189h4v1h-4zM444 190h2v1h-2zM1417 190h4v1h-4zM446 191h2v1h-2zM1371 191h21v1h-21zM1413 191h4v1h-4zM448 192h2v1h-2zM1366 192h5v1h-5zM1392 192h21v1h-21zM450 193h2v1h-2zM1359 193h7v1h-7zM452 194h2v1h-2zM1351 194h8v1h-8zM454 195h2v1h-2zM1343 195h8v1h-8zM456 196h2v1h-2zM1337 196h6v1h-6zM458 197h2v1h-2zM1334 197h3v1h-3zM460 198h2v1h-2zM1330 198h4v1h-4zM462 199h2v1h-2zM1326 199h4v1h-4zM464 200h3v1h-3zM1323 200h3v1h-3zM467 201h3v1h-3zM1319 201h4v1h-4zM470 202h3v1h-3zM1316 202h3v1h-3zM473 203h3v1h-3zM1313 203h3v1h-3zM476 204h3v1h-3zM1310 204h3v1h-3zM479 205h3v1h-3zM1307 205h3v1h-3zM482 206h3v1h-3zM1304 206h3v1h-3zM485 207h3v1h-3zM1302 207h2v1h-2zM488 208h2v1h-2zM1299 208h3v1h-3zM490 209h3v1h-3zM1297 209h2v1h-2zM493 210h3v1h-3zM1294 210h3v1h-3zM496 211h2v1h-2zM1292 211h2v1h-2zM498 212h3v1h-3zM1289 212h3v1h-3zM501 213h3v1h-3zM1287 213h2v1h-2zM504 214h2v1h-2zM1285 214h2v1h-2zM506 215h3v1h-3zM1284 215h1v1h-1zM509 216h3v1h-3zM1282 216h2v1h-2zM512 217h2v1h-2zM1281 217h1v1h-1zM514 218h3v1h-3zM1279 218h2v1h-2zM517 219h2v1h-2zM1278 219h1v1h-1zM519 220h3v1h-3zM1276 220h2v1h-2zM522 221h2v1h-2zM1275 221h1v1h-1zM524 222h3v1h-3zM1273 222h2v1h-2zM527 223h2v1h-2zM1272 223h1v1h-1zM529 224h3v1h-3zM1270 224h2v1h-2zM532 225h2v1h-2zM1269 225h1v1h-1zM534 226h3v1h-3zM1267 226h2v1h-2zM537 227h2v1h-2zM1265 227h2v1h-2zM539 228h4v1h-4zM1264 228h1v1h-1zM543 229h3v1h-3zM1263 229h1v1h-1zM546 230h4v1h-4zM1262 230h1v1h-1zM550 231h3v1h-3zM1261 231h1v1h-1zM553 232h4v1h-4zM1260 232h1v1h-1zM557 233h4v1h-4zM1259 233h1v1h-1zM561 234h3v1h-3zM1257 234h2v1h-2zM564 235h4v1h-4zM1256 235h1v1h-1zM568 236h4v1h-4zM1255 236h1v1h-1zM572 237h4v1h-4zM1253 237h2v1h-2zM576 238h4v1h-4zM1252 238h1v1h-1zM580 239h3v1h-3zM1251 239h1v1h-1zM583 240h4v1h-4zM1249 240h2v1h-2zM587 241h3v1h-3zM1248 241h1v1h-1zM590 242h3v1h-3zM1247 242h1v1h-1zM593 243h4v1h-4zM1245 243h2v1h-2zM597 244h4v1h-4zM1244 244h1v1h-1zM601 245h4v1h-4zM1243 245h1v1h-1zM605 246h4v1h-4zM1241 246h2v1h-2zM609 247h4v1h-4zM1240 247h1v1h-1zM613 248h4v1h-4zM1239 248h1v1h-1zM617 249h4v1h-4zM1237 249h2v1h-2zM621 250h2v1h-2zM1236 250h1v1h-1zM623 251h3v1h-3zM1234 251h2v1h-2zM626 252h3v1h-3zM1233 252h1v1h-1zM629 253h3v1h-3zM1231 253h2v1h-2zM632 254h5v1h-5zM1229 254h2v1h-2zM637 255h5v1h-5zM1227 255h2v1h-2zM642 256h5v1h-5zM1226 256h1v1h-1zM647 257h15v1h-15zM1224 257h2v1h-2zM662 258h9v1h-9zM1222 258h2v1h-2zM671 259h9v1h-9zM1220 259h2v1h-2zM680 260h8v1h-8zM1219 260h1v1h-1zM688 261h8v1h-8zM1217 261h2v1h-2zM696 262h6v1h-6zM1215 262h2v1h-2zM702 263h5v1h-5zM1213 263h2v1h-2zM707 264h3v1h-3zM1211 264h2v1h-2zM710 265h3v1h-3zM1209 265h2v1h-2zM713 266h3v1h-3zM1207 266h2v1h-2zM716 267h3v1h-3zM1205 267h2v1h-2zM719 268h2v1h-2zM1202 268h3v1h-3zM721 269h3v1h-3zM1200 269h2v1h-2zM724 270h2v1h-2zM1198 270h2v1h-2zM726 271h3v1h-3zM1196 271h2v1h-2zM729 272h2v1h-2zM1193 272h3v1h-3zM731 273h2v1h-2zM1191 273h2v1h-2zM733 274h1v1h-1zM1189 274h2v1h-2zM734 275h2v1h-2zM1187 275h2v1h-2zM736 276h1v1h-1zM1185 276h2v1h-2zM737 277h2v1h-2zM1183 277h2v1h-2zM739 278h2v1h-2zM1182 278h1v1h-1zM741 279h2v1h-2zM1180 279h2v1h-2zM743 280h3v1h-3zM1178 280h2v1h-2zM746 281h2v1h-2zM1176 281h2v1h-2zM748 282h2v1h-2zM1174 282h2v1h-2zM750 283h3v1h-3zM1173 283h1v1h-1zM753 284h2v1h-2zM1171 284h2v1h-2zM755 285h3v1h-3zM1169 285h2v1h-2zM758 286h4v1h-4zM1167 286h2v1h-2zM762 287h3v1h-3zM1165 287h2v1h-2zM765 288h3v1h-3zM1163 288h2v1h-2zM768 289h4v1h-4zM1161 289h2v1h-2zM772 290h3v1h-3zM1158 290h3v1h-3zM775 291h3v1h-3zM1155 291h3v1h-3zM778 292h4v1h-4zM1152 292h3v1h-3zM782 293h4v1h-4zM1149 293h3v1h-3zM786 294h4v1h-4zM1146 294h3v1h-3zM790 295h4v1h-4zM1144 295h2v1h-2zM794 296h5v1h-5zM1141 296h3v1h-3zM799 297h4v1h-4zM1138 297h3v1h-3zM803 298h3v1h-3zM1133 298h5v1h-5zM806 299h2v1h-2zM1129 299h4v1h-4zM808 300h2v1h-2zM1125 300h4v1h-4zM810 301h2v1h-2zM1120 301h5v1h-5zM812 302h2v1h-2zM1116 302h4v1h-4zM814 303h2v1h-2zM1112 303h4v1h-4zM816 304h3v1h-3zM1108 304h4v1h-4zM819 305h3v1h-3zM1104 305h4v1h-4zM822 306h3v1h-3zM1101 306h3v1h-3zM825 307h3v1h-3zM1097 307h4v1h-4zM828 308h3v1h-3zM1093 308h4v1h-4zM831 309h2v1h-2zM1089 309h4v1h-4zM833 310h3v1h-3zM1085 310h4v1h-4zM836 311h3v1h-3zM1081 311h4v1h-4zM839 312h2v1h-2zM1077 312h4v1h-4zM841 313h3v1h-3zM1072 313h5v1h-5zM844 314h4v1h-4zM1068 314h4v1h-4zM848 315h5v1h-5zM1064 315h4v1h-4zM853 316h3v1h-3zM1060 316h4v1h-4zM856 317h3v1h-3zM1056 317h4v1h-4zM859 318h3v1h-3zM1053 318h3v1h-3zM862 319h3v1h-3zM1049 319h4v1h-4zM865 320h4v1h-4zM1044 320h5v1h-5zM869 321h5v1h-5zM1038 321h6v1h-6zM874 322h6v1h-6zM1031 322h7v1h-7zM880 323h14v1h-14zM1020 323h11v1h-11zM894 324h18v1h-18zM1015 324h5v1h-5zM912 325h18v1h-18zM949 325h66v1h-66zM930 326h19v1h-19z" fill="#FF00FF"/>
<path d="M98 75h12v1h-12zM75 76h23v1h-23zM110 76h2v1h-2zM67 77h8v1h-8zM112 77h3v1h-3zM59 78h8v1h-8zM115 78h5v1h-5zM49 79h10v1h-10zM120 79h6v1h-6zM43 80h6v1h-6zM126 80h5v1h-5zM37 81h6v1h-6zM131 81h5v1h-5zM32 82h5v1h-5zM136 82h5v1h-5zM27 83h5v1h-5zM141 83h4v1h-4zM23 84h4v1h-4zM145 84h5v1h-5zM20 85h3v1h-3zM150 85h3v1h-3zM17 86h3v1h-3zM153 86h3v1h-3zM14 87h3v1h-3zM156 87h3v1h-3zM12 88h2v1h-2zM159 88h3v1h-3zM9 89h3v1h-3zM162 89h1v1h-1zM6 90h3v1h-3zM163 90h2v1h-2zM3 91h3v1h-3zM165 91h2v1h-2zM167 92h2v1h-2zM169 93h1v1h-1zM170 94h2v1h-2zM172 95h2v1h-2zM174 96h1v1h-1zM175 97h2v1h-2zM177 98h2v1h-2zM179 99h1v1h-1zM180 100h1v1h-1zM181 101h2v1h-2zM183 102h1v1h-1zM184 103h1v1h-1zM185 104h2v1h-2zM187 105h1v1h-1zM188 106h3v1h-3zM191 107h2v1h-2zM193 108h1v1h-1zM194 109h2v1h-2zM196 110h1v1h-1zM197 111h1v1h-1zM198 112h2v1h-2zM200 113h1v1h-1zM201 114h2v1h-2zM203 115h1v1h-1zM204 116h1v1h-1zM205 117h1v1h-1zM206 118h1v1h-1zM207 119h1v1h-1zM208 120h1v1h-1zM209 121h1v1h-1zM210 122h1v1h-1zM211 123h1v1h-1zM212 124h1v1h-1zM213 125h1v2h-1zM214 127h1v1h-1zM215 128h1v2h-1zM216 130h1v1h-1zM217 131h1v2h-1zM218 133h1v1h-1zM1665 133h2v1h-2zM219 134h1v2h-1zM1663 134h2v1h-2zM1661 135h2v1h-2zM220 136h1v1h-1zM1659 136h2v1h-2zM221 137h1v2h-1zM1657 137h2v1h-2zM1655 138h2v1h-2zM222 139h1v1h-1zM1651 139h4v1h-4zM223 140h1v2h-1zM1647 140h4v1h-4zM1643 141h4v1h-4zM224 142h1v1h-1zM1640 142h3v1h-3zM225 143h1v2h-1zM1636 143h4v1h-4zM1633 144h3v1h-3zM226 145h1v1h-1zM1629 145h4v1h-4zM227 146h1v1h-1zM1626 146h3v1h-3zM228 147h1v2h-1zM1623 147h3v1h-3zM1620 148h3v1h-3zM229 149h1v1h-1zM1617 149h3v1h-3zM230 150h1v1h-1zM1614 150h3v1h-3zM231 151h1v2h-1zM1612 151h2v1h-2zM1609 152h3v1h-3zM232 153h1v1h-1zM1605 153h4v1h-4zM233 154h1v1h-1zM1601 154h4v1h-4zM234 155h1v2h-1zM1597 155h4v1h-4zM1593 156h4v1h-4zM235 157h1v1h-1zM1589 157h4v1h-4zM236 158h1v1h-1zM1586 158h3v1h-3zM237 159h1v1h-1zM1583 159h3v1h-3zM238 160h1v1h-1zM1580 160h3v1h-3zM239 161h1v2h-1zM1578 161h2v1h-2zM1575 162h3v1h-3zM240 163h1v1h-1zM1573 163h2v1h-2zM241 164h1v1h-1zM1571 164h2v1h-2zM242 165h1v1h-1zM1568 165h3v1h-3zM243 166h1v1h-1zM1566 166h2v1h-2zM244 167h1v1h-1zM1374 167h28v1h-28zM1564 167h2v1h-2zM245 168h1v1h-1zM1370 168h4v1h-4zM1402 168h5v1h-5zM1562 168h2v1h-2zM246 169h1v1h-1zM1366 169h4v1h-4zM1407 169h2v1h-2zM1560 169h2v1h-2zM247 170h1v1h-1zM1363 170h3v1h-3zM1409 170h3v1h-3zM1557 170h3v1h-3zM248 171h1v1h-1zM1360 171h3v1h-3zM1412 171h2v1h-2zM1554 171h3v1h-3zM249 172h1v2h-1zM1356 172h4v1h-4zM1414 172h4v1h-4zM1551 172h3v1h-3zM1352 173h4v1h-4zM1418 173h7v1h-7zM1548 173h3v1h-3zM250 174h2v1h-2zM1333 174h12v1h-12zM1348 174h4v1h-4zM1425 174h8v1h-8zM1486 174h10v1h-10zM1544 174h4v1h-4zM252 175h1v1h-1zM1327 175h6v1h-6zM1345 175h3v1h-3zM1433 175h6v1h-6zM1480 175h6v1h-6zM1496 175h5v1h-5zM1540 175h4v1h-4zM253 176h1v1h-1zM1304 176h23v1h-23zM1439 176h6v1h-6zM1475 176h5v1h-5zM1501 176h5v1h-5zM1536 176h4v1h-4zM254 177h1v1h-1zM1300 177h4v1h-4zM1445 177h30v1h-30zM1506 177h6v1h-6zM1523 177h13v1h-13zM255 178h1v1h-1zM1296 178h4v1h-4zM1512 178h11v1h-11zM256 179h1v1h-1zM1292 179h4v1h-4zM257 180h1v1h-1zM1289 180h3v1h-3zM258 181h1v1h-1zM1286 181h3v1h-3zM259 182h1v1h-1zM1283 182h3v1h-3zM260 183h1v1h-1zM1280 183h3v1h-3zM261 184h2v1h-2zM1277 184h3v1h-3zM263 185h1v1h-1zM1273 185h4v1h-4zM264 186h1v1h-1zM1269 186h4v1h-4zM265 187h1v1h-1zM1265 187h4v1h-4zM266 188h2v1h-2zM1260 188h5v1h-5zM268 189h1v1h-1zM1255 189h5v1h-5zM269 190h1v1h-1zM1252 190h3v1h-3zM270 191h2v1h-2zM1249 191h3v1h-3zM272 192h1v1h-1zM1246 192h3v1h-3zM273 193h1v1h-1zM1242 193h4v1h-4zM274 194h2v1h-2zM1182 194h34v1h-34zM1238 194h4v1h-4zM276 195h4v1h-4zM1179 195h3v1h-3zM1216 195h13v1h-13zM1234 195h4v1h-4zM280 196h4v1h-4zM1176 196h3v1h-3zM1229 196h5v1h-5zM284 197h3v1h-3zM1173 197h3v1h-3zM287 198h3v1h-3zM1171 198h2v1h-2zM290 199h2v1h-2zM1169 199h2v1h-2zM292 200h2v1h-2zM1167 200h2v1h-2zM294 201h2v1h-2zM1164 201h3v1h-3zM296 202h2v1h-2zM1161 202h3v1h-3zM298 203h2v1h-2zM1158 203h3v1h-3zM300 204h2v1h-2zM1155 204h3v1h-3zM302 205h2v1h-2zM1152 205h3v1h-3zM304 206h1v1h-1zM1148 206h4v1h-4zM305 207h2v1h-2zM1145 207h3v1h-3zM307 208h2v1h-2zM1141 208h4v1h-4zM309 209h1v1h-1zM1137 209h4v1h-4zM310 210h2v1h-2zM1129 210h8v1h-8zM312 211h2v1h-2zM1111 211h18v1h-18zM314 212h1v1h-1zM1107 212h4v1h-4zM315 213h1v1h-1zM1103 213h4v1h-4zM316 214h2v1h-2zM1100 214h3v1h-3zM318 215h1v1h-1zM1096 215h4v1h-4zM319 216h2v1h-2zM1092 216h4v1h-4zM321 217h1v1h-1zM1089 217h3v1h-3zM322 218h2v1h-2zM1081 218h8v1h-8zM324 219h1v1h-1zM1075 219h6v1h-6zM325 220h1v1h-1zM1073 220h2v1h-2zM326 221h2v1h-2zM1070 221h3v1h-3zM328 222h1v1h-1zM1068 222h2v1h-2zM329 223h1v1h-1zM1066 223h2v1h-2zM330 224h1v1h-1zM1063 224h3v1h-3zM331 225h2v1h-2zM1062 225h1v1h-1zM333 226h1v1h-1zM1060 226h2v1h-2zM334 227h1v1h-1zM1059 227h1v1h-1zM335 228h1v1h-1zM1057 228h2v1h-2zM336 229h2v1h-2zM1056 229h1v1h-1zM338 230h1v1h-1zM1054 230h2v1h-2zM339 231h1v1h-1zM1052 231h2v1h-2zM340 232h1v1h-1zM1051 232h1v1h-1zM341 233h1v1h-1zM561 233h12v1h-12zM1049 233h2v1h-2zM342 234h1v1h-1zM555 234h6v1h-6zM573 234h3v1h-3zM1048 234h1v1h-1zM343 235h1v1h-1zM551 235h4v1h-4zM576 235h3v1h-3zM1047 235h1v1h-1zM344 236h1v1h-1zM549 236h2v1h-2zM579 236h4v1h-4zM1046 236h1v1h-1zM345 237h1v1h-1zM547 237h2v1h-2zM583 237h5v1h-5zM1044 237h2v1h-2zM346 238h1v1h-1zM545 238h2v1h-2zM588 238h5v1h-5zM1043 238h1v1h-1zM347 239h1v1h-1zM543 239h2v1h-2zM593 239h4v1h-4zM1042 239h1v1h-1zM348 240h1v1h-1zM541 240h2v1h-2zM597 240h5v1h-5zM1040 240h2v1h-2zM349 241h1v1h-1zM539 241h2v1h-2zM602 241h4v1h-4zM1039 241h1v1h-1zM350 242h1v1h-1zM537 242h2v1h-2zM606 242h4v1h-4zM1038 242h1v1h-1zM351 243h1v1h-1zM535 243h2v1h-2zM610 243h16v1h-16zM1036 243h2v1h-2zM352 244h1v1h-1zM533 244h2v1h-2zM626 244h2v1h-2zM1035 244h1v1h-1zM353 245h1v1h-1zM532 245h1v1h-1zM628 245h2v1h-2zM1033 245h2v1h-2zM354 246h1v1h-1zM530 246h2v1h-2zM630 246h2v1h-2zM1032 246h1v1h-1zM355 247h1v1h-1zM528 247h2v1h-2zM632 247h3v1h-3zM1030 247h2v1h-2zM356 248h1v1h-1zM526 248h2v1h-2zM635 248h2v1h-2zM1029 248h1v1h-1zM357 249h1v1h-1zM525 249h1v1h-1zM637 249h2v1h-2zM1028 249h1v1h-1zM358 250h1v1h-1zM523 250h2v1h-2zM639 250h1v1h-1zM1026 250h2v1h-2zM359 251h1v1h-1zM522 251h1v1h-1zM640 251h2v1h-2zM1025 251h1v1h-1zM360 252h1v1h-1zM520 252h2v1h-2zM642 252h2v1h-2zM1023 252h2v1h-2zM361 253h1v1h-1zM519 253h1v1h-1zM644 253h1v1h-1zM1022 253h1v1h-1zM362 254h1v1h-1zM517 254h2v1h-2zM645 254h2v1h-2zM1020 254h2v1h-2zM363 255h3v1h-3zM516 255h1v1h-1zM647 255h1v1h-1zM1019 255h1v1h-1zM366 256h2v1h-2zM515 256h1v1h-1zM648 256h2v1h-2zM1018 256h1v1h-1zM368 257h2v1h-2zM513 257h2v1h-2zM650 257h2v1h-2zM1016 257h2v1h-2zM370 258h2v1h-2zM511 258h2v1h-2zM652 258h1v1h-1zM1015 258h1v1h-1zM372 259h4v1h-4zM510 259h1v1h-1zM653 259h2v1h-2zM1013 259h2v1h-2zM376 260h3v1h-3zM508 260h2v1h-2zM655 260h2v1h-2zM1012 260h1v1h-1zM379 261h3v1h-3zM506 261h2v1h-2zM657 261h1v1h-1zM1011 261h1v1h-1zM382 262h4v1h-4zM505 262h1v1h-1zM658 262h2v1h-2zM1010 262h1v1h-1zM386 263h12v1h-12zM412 263h19v1h-19zM503 263h2v1h-2zM660 263h2v1h-2zM1009 263h1v1h-1zM398 264h4v1h-4zM408 264h4v1h-4zM431 264h5v1h-5zM502 264h1v1h-1zM662 264h1v1h-1zM1008 264h1v1h-1zM402 265h6v1h-6zM436 265h4v1h-4zM499 265h3v1h-3zM663 265h2v1h-2zM1007 265h1v1h-1zM440 266h3v1h-3zM496 266h3v1h-3zM665 266h2v1h-2zM1006 266h1v1h-1zM443 267h3v1h-3zM494 267h2v1h-2zM667 267h2v1h-2zM1005 267h1v1h-1zM446 268h3v1h-3zM491 268h3v1h-3zM669 268h2v1h-2zM1004 268h1v1h-1zM449 269h3v1h-3zM488 269h3v1h-3zM671 269h2v1h-2zM1003 269h1v1h-1zM452 270h3v1h-3zM483 270h5v1h-5zM673 270h1v1h-1zM1002 270h1v1h-1zM455 271h3v1h-3zM478 271h5v1h-5zM674 271h2v1h-2zM1001 271h1v1h-1zM458 272h5v1h-5zM473 272h5v1h-5zM676 272h2v1h-2zM1000 272h1v1h-1zM463 273h10v1h-10zM678 273h2v1h-2zM999 273h1v2h-1zM680 274h2v1h-2zM682 275h1v1h-1zM998 275h1v1h-1zM683 276h3v1h-3zM997 276h1v1h-1zM686 277h2v1h-2zM996 277h1v1h-1zM688 278h2v1h-2zM995 278h1v2h-1zM690 279h5v1h-5zM695 280h4v1h-4zM994 280h1v1h-1zM699 281h2v1h-2zM993 281h1v1h-1zM701 282h1v1h-1zM992 282h1v2h-1zM702 283h2v1h-2zM704 284h2v1h-2zM991 284h1v1h-1zM706 285h1v1h-1zM990 285h1v1h-1zM707 286h1v1h-1zM989 286h1v2h-1zM708 287h2v1h-2zM710 288h1v1h-1zM988 288h1v1h-1zM711 289h1v1h-1zM987 289h1v1h-1zM712 290h1v1h-1zM986 290h1v2h-1zM713 291h1v1h-1zM714 292h1v1h-1zM985 292h1v1h-1zM715 293h1v1h-1zM984 293h1v1h-1zM716 294h2v1h-2zM983 294h1v2h-1zM718 295h1v1h-1zM719 296h1v1h-1zM982 296h1v1h-1zM720 297h1v1h-1zM981 297h1v2h-1zM721 298h1v1h-1zM722 299h2v1h-2zM980 299h1v1h-1zM724 300h1v1h-1zM979 300h1v1h-1zM725 301h1v1h-1zM978 301h1v2h-1zM726 302h1v1h-1zM727 303h2v1h-2zM977 303h1v1h-1zM729 304h1v1h-1zM976 304h1v2h-1zM730 305h1v1h-1zM731 306h1v1h-1zM975 306h1v1h-1zM732 307h2v1h-2zM974 307h1v1h-1zM734 308h1v1h-1zM973 308h1v2h-1zM735 309h1v1h-1zM736 310h1v1h-1zM972 310h1v1h-1zM737 311h1v1h-1zM971 311h1v2h-1zM738 312h1v1h-1zM739 313h1v1h-1zM970 313h1v1h-1zM740 314h1v1h-1zM969 314h1v1h-1zM741 315h1v1h-1zM968 315h1v2h-1zM742 316h1v1h-1zM743 317h1v1h-1zM967 317h1v1h-1zM744 318h1v1h-1zM966 318h1v1h-1zM745 319h1v1h-1zM965 319h1v2h-1zM746 320h1v1h-1zM747 321h1v1h-1zM964 321h1v1h-1zM748 322h1v2h-1zM963 322h1v2h-1zM749 324h1v1h-1zM962 324h1v1h-1zM750 325h2v1h-2zM961 325h1v2h-1zM752 326h1v1h-1zM753 327h1v1h-1zM960 327h1v2h-1zM754 328h2v1h-2zM756 329h1v1h-1zM959 329h1v1h-1zM757 330h2v1h-2zM958 330h1v2h-1zM759 331h1v1h-1zM760 332h2v1h-2zM957 332h1v2h-1zM762 333h1v1h-1zM763 334h2v1h-2zM956 334h1v2h-1zM765 335h1v1h-1zM766 336h1v1h-1zM955 336h1v1h-1zM767 337h1v1h-1zM954 337h1v2h-1zM768 338h1v1h-1zM769 339h2v1h-2zM953 339h1v2h-1zM771 340h1v1h-1zM772 341h1v1h-1zM952 341h1v1h-1zM773 342h1v1h-1zM951 342h1v2h-1zM774 343h1v1h-1zM775 344h1v1h-1zM950 344h1v1h-1zM776 345h2v1h-2zM949 345h1v2h-1zM778 346h1v1h-1zM779 347h1v1h-1zM948 347h1v1h-1zM780 348h1v1h-1zM947 348h1v1h-1zM781 349h1v1h-1zM946 349h1v1h-1zM782 350h2v1h-2zM945 350h1v2h-1zM784 351h1v1h-1zM785 352h1v1h-1zM944 352h1v1h-1zM786 353h1v1h-1zM943 353h1v1h-1zM787 354h1v1h-1zM942 354h1v1h-1zM788 355h1v1h-1zM941 355h1v1h-1zM789 356h1v1h-1zM940 356h1v1h-1zM790 357h1v1h-1zM939 357h1v1h-1zM791 358h1v1h-1zM938 358h1v2h-1zM792 359h1v2h-1zM937 360h1v1h-1zM793 361h1v1h-1zM936 361h1v1h-1zM794 362h1v1h-1zM935 362h1v1h-1zM795 363h1v1h-1zM934 363h1v1h-1zM796 364h1v1h-1zM933 364h1v1h-1zM797 365h1v1h-1zM932 365h1v1h-1zM798 366h1v1h-1zM931 366h1v1h-1zM799 367h1v1h-1zM930 367h1v1h-1zM800 368h1v1h-1zM929 368h1v1h-1zM801 369h1v1h-1zM928 369h1v2h-1zM802 370h1v1h-1zM803 371h1v1h-1zM927 371h1v1h-1zM804 372h1v1h-1zM926 372h1v1h-1zM805 373h1v1h-1zM925 373h1v1h-1zM806 374h1v1h-1zM924 374h1v1h-1zM807 375h1v1h-1zM923 375h1v1h-1zM808 376h1v1h-1zM922 376h1v1h-1zM809 377h1v1h-1zM921 377h1v1h-1zM810 378h1v1h-1zM920 378h1v2h-1zM811 379h1v2h-1zM919 380h1v1h-1zM812 381h1v1h-1zM918 381h1v1h-1zM813 382h1v1h-1zM917 382h1v1h-1zM814 383h1v1h-1zM916 383h1v1h-1zM815 384h1v1h-1zM915 384h1v2h-1zM816 385h1v1h-1zM817 386h2v1h-2zM914 386h1v1h-1zM819 387h1v1h-1zM913 387h1v1h-1zM820 388h1v1h-1zM912 388h1v2h-1zM821 389h1v1h-1zM822 390h1v1h-1zM911 390h1v1h-1zM823 391h1v1h-1zM910 391h1v1h-1zM824 392h1v1h-1zM909 392h1v1h-1zM825 393h1v1h-1zM908 393h1v2h-1zM826 394h1v1h-1zM827 395h1v1h-1zM907 395h1v1h-1zM828 396h2v1h-2zM906 396h1v1h-1zM830 397h1v1h-1zM905 397h1v1h-1zM831 398h1v1h-1zM904 398h1v1h-1zM832 399h1v1h-1zM903 399h1v2h-1zM833 400h2v1h-2zM835 401h1v1h-1zM902 401h1v1h-1zM836 402h1v1h-1zM901 402h1v1h-1zM837 403h1v1h-1zM900 403h1v1h-1zM838 404h2v1h-2zM899 404h1v1h-1zM840 405h1v1h-1zM897 405h2v1h-2zM841 406h2v1h-2zM896 406h1v1h-1zM843 407h2v1h-2zM894 407h2v1h-2zM845 408h2v1h-2zM892 408h2v1h-2zM847 409h3v1h-3zM890 409h2v1h-2zM850 410h3v1h-3zM888 410h2v1h-2zM853 411h3v1h-3zM886 411h2v1h-2zM856 412h3v1h-3zM884 412h2v1h-2zM859 413h3v1h-3zM880 413h4v1h-4zM862 414h4v1h-4zM877 414h3v1h-3zM866 415h11v1h-11z" fill="#FFA500"/>
<path d="M47 89h89v1h-89zM23 90h24v1h-24zM136 90h72v1h-72zM3 91h20v1h-20zM208 91h12v1h-12zM220 92h11v1h-11zM231 93h12v1h-12zM243 94h11v1h-11zM254 95h10v1h-10zM264 96h10v1h-10zM274 97h10v1h-10zM284 98h10v1h-10zM294 99h9v1h-9zM303 100h6v1h-6zM309 101h7v1h-7zM316 102h7v1h-7zM323 103h6v1h-6zM329 104h7v1h-7zM336 105h6v1h-6zM342 106h7v1h-7zM349 107h6v1h-6zM355 108h6v1h-6zM361 109h6v1h-6zM367 110h6v1h-6zM373 111h6v1h-6zM379 112h6v1h-6zM385 113h5v1h-5zM390 114h6v1h-6zM396 115h7v1h-7zM403 116h12v1h-12zM415 117h12v1h-12zM427 118h7v1h-7zM434 119h7v1h-7zM441 120h9v1h-9zM450 121h10v1h-10zM460 122h9v1h-9zM469 123h10v1h-10zM479 124h9v1h-9zM488 125h10v1h-10zM498 126h10v1h-10zM508 127h9v1h-9zM517 128h13v1h-13zM530 129h14v1h-14zM544 130h12v1h-12zM556 131h9v1h-9zM565 132h8v1h-8zM573 133h8v1h-8zM581 134h7v1h-7zM588 135h7v1h-7zM595 136h7v1h-7zM602 137h7v1h-7zM609 138h6v1h-6zM615 139h8v1h-8zM623 140h7v1h-7zM630 141h6v1h-6zM636 142h7v1h-7zM643 143h6v1h-6zM649 144h6v1h-6zM655 145h6v1h-6zM661 146h6v1h-6zM667 147h6v1h-6zM673 148h5v1h-5zM678 149h5v1h-5zM683 150h6v1h-6zM689 151h5v1h-5zM694 152h5v1h-5zM699 153h6v1h-6zM705 154h5v1h-5zM710 155h4v1h-4zM714 156h4v1h-4zM718 157h4v1h-4zM722 158h4v1h-4zM726 159h4v1h-4zM730 160h4v1h-4zM734 161h4v1h-4zM738 162h3v1h-3zM741 163h3v1h-3zM744 164h3v1h-3zM747 165h2v1h-2zM749 166h3v1h-3zM752 167h3v1h-3zM755 168h3v1h-3zM758 169h2v1h-2zM760 170h3v1h-3zM763 171h3v1h-3zM766 172h5v1h-5zM771 173h5v1h-5zM776 174h4v1h-4zM780 175h5v1h-5zM785 176h5v1h-5zM790 177h5v1h-5zM795 178h3v1h-3zM798 179h3v1h-3zM801 180h4v1h-4zM805 181h3v1h-3zM808 182h3v1h-3zM811 183h3v1h-3zM814 184h4v1h-4zM818 185h6v1h-6zM824 186h5v1h-5zM829 187h5v1h-5zM834 188h5v1h-5zM839 189h6v1h-6zM845 190h7v1h-7zM852 191h7v1h-7zM859 192h8v1h-8zM867 193h7v1h-7zM874 194h8v1h-8zM882 195h8v1h-8zM890 196h8v1h-8zM898 197h9v1h-9zM907 198h8v1h-8zM915 199h9v1h-9zM924 200h10v1h-10zM934 201h10v1h-10zM944 202h10v1h-10zM954 203h9v1h-9zM963 204h9v1h-9zM972 205h9v1h-9zM981 206h9v1h-9zM990 207h9v1h-9zM999 208h8v1h-8zM1007 209h8v1h-8zM1015 210h7v1h-7zM1022 211h7v1h-7zM1029 212h6v1h-6zM1035 213h6v1h-6zM1041 214h5v1h-5zM1046 215h7v1h-7zM1311 215h64v1h-64zM1053 216h8v1h-8zM1295 216h16v1h-16zM1375 216h17v1h-17zM1061 217h8v1h-8zM1279 217h16v1h-16zM1392 217h16v1h-16zM1069 218h35v1h-35zM1275 218h4v1h-4zM1408 218h24v1h-24zM1104 219h8v1h-8zM1271 219h4v1h-4zM1432 219h32v1h-32zM1112 220h8v1h-8zM1256 220h15v1h-15zM1464 220h26v1h-26zM1120 221h24v1h-24zM1248 221h8v1h-8zM1490 221h11v1h-11zM1144 222h24v1h-24zM1239 222h9v1h-9zM1501 222h11v1h-11zM1168 223h24v1h-24zM1231 223h8v1h-8zM1512 223h16v1h-16zM1192 224h39v1h-39zM1528 224h40v1h-40zM1568 225h40v1h-40z" fill="#FF0000"/>
<rect x="3" y="52" width="1686" height="2" fill="#FF0000"/>
<rect x="3" y="139" width="1686" height="2" fill="#2CCB2C"/>
<rect x="3" y="226" width="1686" height="2" fill="#4169E1"/>
<rect x="3" y="335" width="1686" height="2" fill="#4169E1"/>
<rect x="3" y="444" width="1686" height="2" fill="#4169E1"/>
<rect x="3" y="568" width="1" height="18" fill="#C0C0C0"/>
<rect x="11" y="566" width="1" height="20" fill="#C0C0C0"/>
<rect x="19" y="563" width="1" height="23" fill="#C0C0C0"/>
<rect x="27" y="562" width="1" height="24" fill="#C0C0C0"/>
<rect x="35" y="563" width="1" height="23" fill="#C0C0C0"/>
<rect x="43" y="563" width="1" height="23" fill="#C0C0C0"/>
<rect x="51" y="562" width="1" height="24" fill="#C0C0C0"/>
<rect x="59" y="560" width="1" height="26" fill="#C0C0C0"/>
<rect x="67" y="560" width="1" height="26" fill="#C0C0C0"/>
<rect x="75" y="560" width="1" height="26" fill="#C0C0C0"/>
<rect x="83" y="561" width="1" height="25" fill="#C0C0C0"/>
<rect x="91" y="564" width="1" height="22" fill="#C0C0C0"/>
<rect x="99" y="567" width="1" height="19" fill="#C0C0C0"/>
<rect x="107" y="570" width="1" height="16" fill="#C0C0C0"/>
<rect x="115" y="582" width="1" height="4" fill="#C0C0C0"/>
<rect x="123" y="585" width="1" height="5" fill="#C0C0C0"/>
<rect x="131" y="585" width="1" height="9" fill="#C0C0C0"/>
<rect x="139" y="585" width="1" height="14" fill="#C0C0C0"/>
<rect x="147" y="585" width="1" height="18" fill="#C0C0C0"/>
<rect x="155" y="585" width="1" height="20" fill="#C0C0C0"/>
<rect x="163" y="585" width="1" height="24" fill="#C0C0C0"/>
<rect x="171" y="585" width="1" height="27" fill="#C0C0C0"/>
<rect x="179" y="585" width="1" height="31" fill="#C0C0C0"/>
<rect x="187" y="585" width="1" height="32" fill="#C0C0C0"/>
<rect x="195" y="585" width="1" height="31" fill="#C0C0C0"/>
<rect x="203" y="585" width="1" height="38" fill="#C0C0C0"/>
<rect x="211" y="585" width="1" height="47" fill="#C0C0C0"/>
<rect x="219" y="585" width="1" height="55" fill="#C0C0C0"/>
<rect x="227" y="585" width="1" height="60" fill="#C0C0C0"/>
<rect x="235" y="585" width="1" height="61" fill="#C0C0C0"/>
<rect x="243" y="585" width="1" height="63" fill="#C0C0C0"/>
<rect x="251" y="585" width="1" height="64" fill="#C0C0C0"/>
<rect x="259" y="585" width="1" height="60" fill="#C0C0C0"/>
<rect x="267" y="585" width="1" height="56" fill="#C0C0C0"/>
<rect x="275" y="585" width="1" height="51" fill="#C0C0C0"/>
<rect x="283" y="585" width="1" height="46" fill="#C0C0C0"/>
<rect x="291" y="585" width="1" height="41" fill="#C0C0C0"/>
<rect x="299" y="585" width="1" height="34" fill="#C0C0C0"/>
<rect x="307" y="585" width="1" height="35" fill="#C0C0C0"/>
<rect x="315" y="585" width="1" height="37" fill="#C0C0C0"/>
<rect x="323" y="585" width="1" height="38" fill="#C0C0C0"/>
<rect x="331" y="585" width="1" height="43" fill="#C0C0C0"/>
<rect x="339" y="585" width="1" height="47" fill="#C0C0C0"/>
<rect x="347" y="585" width="1" height="55" fill="#C0C0C0"/>
<rect x="355" y="585" width="1" height="62" fill="#C0C0C0"/>
<rect x="363" y="585" width="1" height="63" fill="#C0C0C0"/>
<rect x="371" y="585" width="1" height="61" fill="#C0C0C0"/>
<rect x="379" y="585" width="1" height="59" fill="#C0C0C0"/>
<rect x="387" y="585" width="1" height="56" fill="#C0C0C0"/>
<rect x="395" y="585" width="1" height="50" fill="#C0C0C0"/>
<rect x="403" y="585" width="1" height="44" fill="#C0C0C0"/>
<rect x="411" y="585" width="1" height="35" fill="#C0C0C0"/>
<rect x="419" y="585" width="1" height="29" fill="#C0C0C0"/>
<rect x="427" y="585" width="1" height="22" fill="#C0C0C0"/>
<rect x="435" y="585" width="1" height="19" fill="#C0C0C0"/>
<rect x="443" y="585" width="1" height="14" fill="#C0C0C0"/>
<rect x="451" y="585" width="1" height="16" fill="#C0C0C0"/>
<rect x="459" y="585" width="1" height="16" fill="#C0C0C0"/>
<rect x="467" y="585" width="1" height="8" fill="#C0C0C0"/>
<rect x="475" y="585" width="1" height="2" fill="#C0C0C0"/>
<rect x="483" y="582" width="1" height="4" fill="#C0C0C0"/>
<rect x="491" y="577" width="1" height="9" fill="#C0C0C0"/>
<rect x="499" y="576" width="1" height="10" fill="#C0C0C0"/>
<rect x="507" y="575" width="1" height="11" fill="#C0C0C0"/>
<rect x="515" y="574" width="1" height="12" fill="#C0C0C0"/>
<rect x="523" y="575" width="1" height="11" fill="#C0C0C0"/>
<rect x="531" y="576" width="1" height="10" fill="#C0C0C0"/>
<rect x="539" y="577" width="1" height="9" fill="#C0C0C0"/>
<rect x="547" y="577" width="1" height="9" fill="#C0C0C0"/>
<rect x="555" y="578" width="1" height="8" fill="#C0C0C0"/>
<rect x="563" y="583" width="1" height="3" fill="#C0C0C0"/>
<rect x="571" y="585" width="1" height="2" fill="#C0C0C0"/>
<rect x="579" y="585" width="1" height="3" fill="#C0C0C0"/>
<rect x="587" y="585" width="1" height="8" fill="#C0C0C0"/>
<rect x="595" y="585" width="1" height="14" fill="#C0C0C0"/>
<rect x="603" y="585" width="1" height="16" fill="#C0C0C0"/>
<rect x="611" y="585" width="1" height="16" fill="#C0C0C0"/>
<rect x="619" y="585" width="1" height="18" fill="#C0C0C0"/>
<rect x="627" y="585" width="1" height="20" fill="#C0C0C0"/>
<rect x="635" y="585" width="1" height="21" fill="#C0C0C0"/>
<rect x="643" y="585" width="1" height="24" fill="#C0C0C0"/>
<rect x="651" y="585" width="1" height="26" fill="#C0C0C0"/>
<rect x="659" y="585" width="1" height="26" fill="#C0C0C0"/>
<rect x="667" y="585" width="1" height="26" fill="#C0C0C0"/>
<rect x="675" y="585" width="1" height="26" fill="#C0C0C0"/>
<rect x="683" y="585" width="1" height="26" fill="#C0C0C0"/>
<rect x="691" y="585" width="1" height="24" fill="#C0C0C0"/>
<rect x="699" y="585" width="1" height="21" fill="#C0C0C0"/>
<rect x="707" y="585" width="1" height="24" fill="#C0C0C0"/>
<rect x="715" y="585" width="1" height="31" fill="#C0C0C0"/>
<rect x="723" y="585" width="1" height="37" fill="#C0C0C0"/>
<rect x="731" y="585" width="1" height="42" fill="#C0C0C0"/>
<rect x="739" y="585" width="1" height="50" fill="#C0C0C0"/>
<rect x="747" y="585" width="1" height="57" fill="#C0C0C0"/>
<rect x="755" y="585" width="1" height="61" fill="#C0C0C0"/>
<rect x="763" y="585" width="1" height="62" fill="#C0C0C0"/>
<rect x="771" y="585" width="1" height="63" fill="#C0C0C0"/>
<rect x="779" y="585" width="1" height="62" fill="#C0C0C0"/>
<rect x="787" y="585" width="1" height="63" fill="#C0C0C0"/>
<rect x="795" y="585" width="1" height="66" fill="#C0C0C0"/>
<rect x="803" y="585" width="1" height="68" fill="#C0C0C0"/>
<rect x="811" y="585" width="1" height="71" fill="#C0C0C0"/>
<rect x="819" y="585" width="1" height="73" fill="#C0C0C0"/>
<rect x="827" y="585" width="1" height="73" fill="#C0C0C0"/>
<rect x="835" y="585" width="1" height="66" fill="#C0C0C0"/>
<rect x="843" y="585" width="1" height="58" fill="#C0C0C0"/>
<rect x="851" y="585" width="1" height="49" fill="#C0C0C0"/>
<rect x="859" y="585" width="1" height="34" fill="#C0C0C0"/>
<rect x="867" y="585" width="1" height="22" fill="#C0C0C0"/>
<rect x="875" y="585" width="1" height="11" fill="#C0C0C0"/>
<rect x="883" y="585" width="1" height="2" fill="#C0C0C0"/>
<rect x="891" y="578" width="1" height="8" fill="#C0C0C0"/>
<rect x="899" y="568" width="1" height="18" fill="#C0C0C0"/>
<rect x="907" y="557" width="1" height="29" fill="#C0C0C0"/>
<rect x="915" y="545" width="1" height="41" fill="#C0C0C0"/>
<rect x="923" y="536" width="1" height="50" fill="#C0C0C0"/>
<rect x="931" y="533" width="1" height="53" fill="#C0C0C0"/>
<rect x="939" y="529" width="1" height="57" fill="#C0C0C0"/>
<rect x="947" y="523" width="1" height="63" fill="#C0C0C0"/>
<rect x="955" y="519" width="1" height="67" fill="#C0C0C0"/>
<rect x="963" y="514" width="1" height="72" fill="#C0C0C0"/>
<rect x="971" y="517" width="1" height="69" fill="#C0C0C0"/>
<rect x="979" y="524" width="1" height="62" fill="#C0C0C0"/>
<rect x="987" y="528" width="1" height="58" fill="#C0C0C0"/>
<rect x="995" y="532" width="1" height="54" fill="#C0C0C0"/>
<rect x="1003" y="536" width="1" height="50" fill="#C0C0C0"/>
<rect x="1011" y="540" width="1" height="46" fill="#C0C0C0"/>
<rect x="1019" y="542" width="1" height="44" fill="#C0C0C0"/>
<rect x="1027" y="543" width="1" height="43" fill="#C0C0C0"/>
<rect x="1035" y="543" width="1" height="43" fill="#C0C0C0"/>
<rect x="1043" y="542" width="1" height="44" fill="#C0C0C0"/>
<rect x="1051" y="541" width="1" height="45" fill="#C0C0C0"/>
<rect x="1059" y="541" width="1" height="45" fill="#C0C0C0"/>
<rect x="1067" y="537" width="1" height="49" fill="#C0C0C0"/>
<rect x="1075" y="537" width="1" height="49" fill="#C0C0C0"/>
<rect x="1083" y="541" width="1" height="45" fill="#C0C0C0"/>
<rect x="1091" y="542" width="1" height="44" fill="#C0C0C0"/>
<rect x="1099" y="543" width="1" height="43" fill="#C0C0C0"/>
<rect x="1107" y="543" width="1" height="43" fill="#C0C0C0"/>
<rect x="1115" y="544" width="1" height="42" fill="#C0C0C0"/>
<rect x="1123" y="547" width="1" height="39" fill="#C0C0C0"/>
<rect x="1131" y="549" width="1" height="37" fill="#C0C0C0"/>
<rect x="1139" y="552" width="1" height="34" fill="#C0C0C0"/>
<rect x="1147" y="554" width="1" height="32" fill="#C0C0C0"/>
<rect x="1155" y="557" width="1" height="29" fill="#C0C0C0"/>
<rect x="1163" y="560" width="1" height="26" fill="#C0C0C0"/>
<rect x="1171" y="560" width="1" height="26" fill="#C0C0C0"/>
<rect x="1179" y="559" width="1" height="27" fill="#C0C0C0"/>
<rect x="1187" y="561" width="1" height="25" fill="#C0C0C0"/>
<rect x="1195" y="567" width="1" height="19" fill="#C0C0C0"/>
<rect x="1203" y="571" width="1" height="15" fill="#C0C0C0"/>
<rect x="1211" y="575" width="1" height="11" fill="#C0C0C0"/>
<rect x="1219" y="576" width="1" height="10" fill="#C0C0C0"/>
<rect x="1227" y="576" width="1" height="10" fill="#C0C0C0"/>
<rect x="1235" y="575" width="1" height="11" fill="#C0C0C0"/>
<rect x="1243" y="567" width="1" height="19" fill="#C0C0C0"/>
<rect x="1251" y="564" width="1" height="22" fill="#C0C0C0"/>
<rect x="1259" y="562" width="1" height="24" fill="#C0C0C0"/>
<rect x="1267" y="559" width="1" height="27" fill="#C0C0C0"/>
<rect x="1275" y="557" width="1" height="29" fill="#C0C0C0"/>
<rect x="1283" y="553" width="1" height="33" fill="#C0C0C0"/>
<rect x="1291" y="555" width="1" height="31" fill="#C0C0C0"/>
<rect x="1299" y="557" width="1" height="29" fill="#C0C0C0"/>
<rect x="1307" y="559" width="1" height="27" fill="#C0C0C0"/>
<rect x="1315" y="564" width="1" height="22" fill="#C0C0C0"/>
<rect x="1323" y="569" width="1" height="17" fill="#C0C0C0"/>
<rect x="1331" y="573" width="1" height="13" fill="#C0C0C0"/>
<rect x="1339" y="574" width="1" height="12" fill="#C0C0C0"/>
<rect x="1347" y="575" width="1" height="11" fill="#C0C0C0"/>
<rect x="1355" y="577" width="1" height="9" fill="#C0C0C0"/>
<rect x="1363" y="576" width="1" height="10" fill="#C0C0C0"/>
<rect x="1371" y="576" width="1" height="10" fill="#C0C0C0"/>
<rect x="1379" y="579" width="1" height="7" fill="#C0C0C0"/>
<rect x="1387" y="584" width="1" height="2" fill="#C0C0C0"/>
<rect x="1395" y="585" width="1" height="2" fill="#C0C0C0"/>
<rect x="1403" y="585" width="1" height="5" fill="#C0C0C0"/>
<rect x="1411" y="585" width="1" height="6" fill="#C0C0C0"/>
<rect x="1419" y="585" width="1" height="6" fill="#C0C0C0"/>
<rect x="1427" y="585" width="1" height="3" fill="#C0C0C0"/>
<rect x="1435" y="585" width="1" height="1" fill="#C0C0C0"/>
<rect x="1443" y="582" width="1" height="4" fill="#C0C0C0"/>
<rect x="1451" y="579" width="1" height="7" fill="#C0C0C0"/>
<rect x="1459" y="578" width="1" height="8" fill="#C0C0C0"/>
<rect x="1467" y="576" width="1" height="10" fill="#C0C0C0"/>
<rect x="1475" y="576" width="1" height="10" fill="#C0C0C0"/>
<rect x="1483" y="573" width="1" height="13" fill="#C0C0C0"/>
<rect x="1491" y="574" width="1" height="12" fill="#C0C0C0"/>
<rect x="1499" y="581" width="1" height="5" fill="#C0C0C0"/>
<rect x="1507" y="585" width="1" height="1" fill="#C0C0C0"/>
<rect x="1515" y="585" width="1" height="3" fill="#C0C0C0"/>
<rect x="1531" y="584" width="1" height="2" fill="#C0C0C0"/>
<rect x="1539" y="581" width="1" height="5" fill="#C0C0C0"/>
<rect x="1547" y="580" width="1" height="6" fill="#C0C0C0"/>
<rect x="1555" y="577" width="1" height="9" fill="#C0C0C0"/>
<rect x="1563" y="573" width="1" height="13" fill="#C0C0C0"/>
<rect x="1571" y="571" width="1" height="15" fill="#C0C0C0"/>
<rect x="1579" y="569" width="1" height="17" fill="#C0C0C0"/>
<rect x="1587" y="568" width="1" height="18" fill="#C0C0C0"/>
<rect x="1595" y="566" width="1" height="20" fill="#C0C0C0"/>
<rect x="1603" y="564" width="1" height="22" fill="#C0C0C0"/>
<rect x="1611" y="563" width="1" height="23" fill="#C0C0C0"/>
<rect x="1619" y="560" width="1" height="26" fill="#C0C0C0"/>
<rect x="1627" y="558" width="1" height="28" fill="#C0C0C0"/>
<rect x="1635" y="557" width="1" height="29" fill="#C0C0C0"/>
<rect x="1643" y="558" width="1" height="28" fill="#C0C0C0"/>
<rect x="1651" y="560" width="1" height="26" fill="#C0C0C0"/>
<rect x="1659" y="560" width="1" height="26" fill="#C0C0C0"/>
<rect x="1667" y="560" width="1" height="26" fill="#C0C0C0"/>
<path d="M994 523h3v1h-3zM1000 523h3v1h-3zM984 524h1v1h-1zM988 524h3v1h-3zM1006 524h3v1h-3zM982 525h2v1h-2zM1012 525h3v1h-3zM978 526h1v1h-1zM976 527h2v1h-2zM1018 527h3v1h-3zM971 529h2v1h-2zM1024 529h2v1h-2zM970 530h1v1h-1zM1026 530h1v1h-1zM1030 531h1v1h-1zM1031 532h2v1h-2zM965 533h2v1h-2zM1036 533h1v1h-1zM964 534h1v1h-1zM1037 534h2v1h-2zM1042 535h1v1h-1zM1043 536h2v1h-2zM960 537h1v1h-1zM1048 537h3v1h-3zM959 538h1v1h-1zM1054 538h3v1h-3zM958 539h1v1h-1zM1060 539h3v1h-3zM1066 540h3v1h-3zM1072 540h3v1h-3zM1078 540h3v1h-3zM1084 540h3v1h-3zM1090 540h3v1h-3zM1096 540h3v1h-3zM1102 540h3v1h-3zM1108 540h3v1h-3zM1114 540h3v1h-3zM1120 540h1v1h-1zM1121 541h2v1h-2zM1126 541h3v1h-3zM1132 542h3v1h-3zM954 543h1v1h-1zM1138 543h3v1h-3zM953 544h1v1h-1zM1144 544h3v1h-3zM952 545h1v1h-1zM1150 545h1v1h-1zM1151 546h2v1h-2zM1156 547h2v1h-2zM1158 548h1v1h-1zM948 549h1v1h-1zM1162 549h3v1h-3zM947 550h1v1h-1zM1168 550h3v1h-3zM946 551h1v1h-1zM1174 551h3v1h-3zM1180 552h3v1h-3zM1186 553h1v1h-1zM1187 554h2v1h-2zM942 555h1v1h-1zM1192 555h1v1h-1zM941 556h1v1h-1zM1193 556h2v1h-2zM940 557h1v1h-1zM1198 557h2v1h-2zM1200 558h1v1h-1zM1307 558h2v1h-2zM1312 558h3v1h-3zM1318 558h3v1h-3zM1324 558h3v1h-3zM1204 559h3v1h-3zM1306 559h1v1h-1zM1330 559h2v1h-2zM1666 559h1v1h-1zM84 560h1v1h-1zM88 560h3v1h-3zM1210 560h2v1h-2zM1300 560h3v1h-3zM1332 560h1v1h-1zM1654 560h3v1h-3zM1660 560h3v1h-3zM70 561h3v1h-3zM76 561h3v1h-3zM82 561h2v1h-2zM94 561h3v1h-3zM100 561h3v1h-3zM936 561h1v1h-1zM1212 561h1v1h-1zM1294 561h3v1h-3zM1336 561h3v1h-3zM1648 561h3v1h-3zM64 562h3v1h-3zM106 562h3v1h-3zM935 562h1v1h-1zM1216 562h2v1h-2zM1289 562h2v1h-2zM1342 562h2v1h-2zM1642 562h3v1h-3zM4 563h3v1h-3zM54 563h1v1h-1zM58 563h3v1h-3zM112 563h3v1h-3zM934 563h1v1h-1zM1218 563h1v1h-1zM1288 563h1v1h-1zM1344 563h1v1h-1zM1348 563h1v1h-1zM1636 563h3v1h-3zM10 564h3v1h-3zM16 564h2v1h-2zM47 564h2v1h-2zM52 564h2v1h-2zM118 564h2v1h-2zM1222 564h1v1h-1zM1283 564h2v1h-2zM1349 564h2v1h-2zM1630 564h3v1h-3zM18 565h1v1h-1zM22 565h3v1h-3zM28 565h3v1h-3zM34 565h3v1h-3zM40 565h3v1h-3zM46 565h1v1h-1zM120 565h1v1h-1zM1223 565h2v1h-2zM1282 565h1v1h-1zM1354 565h2v1h-2zM1625 565h2v1h-2zM1228 566h3v1h-3zM1277 566h2v1h-2zM1356 566h1v1h-1zM1624 566h1v1h-1zM124 567h2v1h-2zM930 567h1v1h-1zM1234 567h2v1h-2zM1272 567h1v1h-1zM1276 567h1v1h-1zM1360 567h2v1h-2zM1618 567h3v1h-3zM126 568h1v1h-1zM929 568h1v1h-1zM1236 568h1v1h-1zM1240 568h1v1h-1zM1264 568h3v1h-3zM1270 568h2v1h-2zM1362 568h1v1h-1zM1613 568h2v1h-2zM928 569h1v1h-1zM1241 569h2v1h-2zM1246 569h3v1h-3zM1252 569h3v1h-3zM1258 569h3v1h-3zM1366 569h2v1h-2zM1612 569h1v1h-1zM130 570h1v1h-1zM1368 570h1v1h-1zM1606 570h3v1h-3zM131 571h2v1h-2zM1372 571h3v1h-3zM1601 571h2v1h-2zM1378 572h1v1h-1zM1600 572h1v1h-1zM136 573h1v1h-1zM925 573h1v1h-1zM1379 573h2v1h-2zM1594 573h3v1h-3zM137 574h2v1h-2zM924 574h1v1h-1zM1384 574h3v1h-3zM1590 574h1v1h-1zM550 575h3v1h-3zM556 575h3v1h-3zM562 575h3v1h-3zM923 575h1v1h-1zM1390 575h1v1h-1zM1588 575h2v1h-2zM142 576h1v1h-1zM538 576h3v1h-3zM544 576h3v1h-3zM568 576h3v1h-3zM1391 576h2v1h-2zM1584 576h1v1h-1zM143 577h1v1h-1zM533 577h2v1h-2zM574 577h3v1h-3zM1396 577h3v1h-3zM1498 577h3v1h-3zM1504 577h3v1h-3zM1582 577h2v1h-2zM144 578h1v1h-1zM532 578h1v1h-1zM580 578h3v1h-3zM1402 578h1v1h-1zM1488 578h1v1h-1zM1492 578h3v1h-3zM1510 578h3v1h-3zM1516 578h3v1h-3zM1578 578h1v1h-1zM528 579h1v1h-1zM920 579h1v2h-1zM1403 579h2v1h-2zM1486 579h2v1h-2zM1522 579h3v1h-3zM1528 579h3v1h-3zM1534 579h3v1h-3zM1572 579h1v1h-1zM1576 579h2v1h-2zM148 580h1v1h-1zM526 580h2v1h-2zM586 580h3v1h-3zM1408 580h3v1h-3zM1482 580h1v1h-1zM1540 580h3v1h-3zM1546 580h3v1h-3zM1552 580h1v1h-1zM1566 580h1v1h-1zM1570 580h2v1h-2zM149 581h2v1h-2zM919 581h1v1h-1zM1414 581h3v1h-3zM1480 581h2v1h-2zM1553 581h2v1h-2zM1558 581h3v1h-3zM1564 581h2v1h-2zM520 582h3v1h-3zM592 582h3v1h-3zM1420 582h3v1h-3zM1474 582h3v1h-3zM1426 583h3v1h-3zM1432 583h1v1h-1zM1464 583h1v1h-1zM1468 583h3v1h-3zM154 584h2v1h-2zM515 584h2v1h-2zM598 584h3v1h-3zM1433 584h2v1h-2zM1438 584h3v1h-3zM1444 584h3v1h-3zM1456 584h3v1h-3zM1462 584h2v1h-2zM156 585h1v1h-1zM514 585h1v1h-1zM916 585h1v2h-1zM1450 585h3v1h-3zM509 586h2v1h-2zM604 586h3v1h-3zM508 587h1v1h-1zM915 587h1v1h-1zM160 588h2v1h-2zM503 588h2v1h-2zM610 588h1v1h-1zM162 589h1v1h-1zM502 589h1v1h-1zM611 589h2v1h-2zM498 590h1v1h-1zM496 591h2v1h-2zM616 591h2v1h-2zM912 591h1v1h-1zM166 592h2v1h-2zM618 592h1v1h-1zM911 592h1v2h-1zM168 593h1v1h-1zM492 593h1v1h-1zM622 593h3v1h-3zM490 594h2v1h-2zM628 595h3v1h-3zM172 596h2v1h-2zM486 596h1v1h-1zM174 597h1v1h-1zM484 597h2v1h-2zM634 597h3v1h-3zM907 597h1v2h-1zM178 599h2v1h-2zM480 599h1v1h-1zM640 599h2v1h-2zM906 599h1v1h-1zM180 600h1v1h-1zM478 600h2v1h-2zM642 600h1v1h-1zM646 601h3v1h-3zM184 602h2v1h-2zM474 602h1v1h-1zM652 602h1v1h-1zM186 603h1v1h-1zM473 603h1v1h-1zM653 603h2v1h-2zM903 603h1v1h-1zM472 604h1v1h-1zM658 604h3v1h-3zM902 604h1v1h-1zM190 605h2v1h-2zM664 605h3v1h-3zM901 605h1v1h-1zM192 606h1v1h-1zM467 606h2v1h-2zM670 606h3v1h-3zM196 607h1v1h-1zM466 607h1v1h-1zM676 607h3v1h-3zM197 608h2v1h-2zM682 608h3v1h-3zM462 609h1v1h-1zM688 609h3v1h-3zM694 609h3v1h-3zM700 609h3v1h-3zM706 609h3v1h-3zM712 609h2v1h-2zM898 609h1v1h-1zM202 610h3v1h-3zM460 610h2v1h-2zM714 610h1v1h-1zM718 610h3v1h-3zM897 610h1v2h-1zM724 611h3v1h-3zM208 612h1v1h-1zM209 613h2v1h-2zM455 613h2v1h-2zM730 613h3v1h-3zM454 614h1v1h-1zM214 615h2v1h-2zM736 615h2v1h-2zM894 615h1v1h-1zM216 616h1v1h-1zM450 616h1v1h-1zM738 616h1v1h-1zM893 616h1v1h-1zM448 617h2v1h-2zM742 617h3v1h-3zM892 617h1v1h-1zM220 618h2v1h-2zM222 619h1v1h-1zM748 619h3v1h-3zM444 620h1v1h-1zM226 621h2v1h-2zM442 621h2v1h-2zM754 621h1v1h-1zM888 621h1v1h-1zM228 622h1v1h-1zM755 622h2v1h-2zM887 622h1v1h-1zM886 623h1v1h-1zM437 624h2v1h-2zM232 625h2v1h-2zM436 625h1v1h-1zM760 625h2v1h-2zM234 626h1v1h-1zM334 626h3v1h-3zM340 626h3v1h-3zM346 626h1v1h-1zM762 626h1v1h-1zM328 627h3v1h-3zM347 627h2v1h-2zM352 627h2v1h-2zM882 627h1v1h-1zM238 628h1v1h-1zM322 628h3v1h-3zM354 628h1v1h-1zM431 628h2v1h-2zM766 628h1v1h-1zM881 628h1v1h-1zM239 629h1v1h-1zM318 629h1v1h-1zM358 629h3v1h-3zM430 629h1v1h-1zM767 629h2v1h-2zM880 629h1v1h-1zM240 630h1v1h-1zM316 630h2v1h-2zM364 630h1v1h-1zM365 631h2v1h-2zM426 631h1v1h-1zM244 632h3v1h-3zM311 632h2v1h-2zM424 632h2v1h-2zM772 632h1v1h-1zM310 633h1v1h-1zM370 633h2v1h-2zM773 633h2v1h-2zM876 633h1v1h-1zM250 634h3v1h-3zM306 634h1v1h-1zM372 634h1v1h-1zM419 634h2v1h-2zM875 634h1v1h-1zM304 635h2v1h-2zM376 635h2v1h-2zM418 635h1v1h-1zM778 635h1v1h-1zM874 635h1v1h-1zM256 636h2v1h-2zM300 636h1v1h-1zM378 636h1v1h-1zM412 636h3v1h-3zM779 636h2v1h-2zM258 637h1v1h-1zM298 637h2v1h-2zM382 637h3v1h-3zM408 637h1v1h-1zM262 638h3v1h-3zM388 638h3v1h-3zM394 638h3v1h-3zM406 638h2v1h-2zM784 638h2v1h-2zM268 639h3v1h-3zM292 639h3v1h-3zM400 639h3v1h-3zM786 639h1v1h-1zM870 639h1v1h-1zM274 640h1v1h-1zM280 640h3v1h-3zM286 640h3v1h-3zM790 640h1v1h-1zM869 640h1v1h-1zM275 641h2v1h-2zM791 641h2v1h-2zM868 641h1v1h-1zM796 643h1v1h-1zM864 643h1v1h-1zM797 644h2v1h-2zM862 644h2v1h-2zM802 646h3v1h-3zM858 646h1v1h-1zM808 647h3v1h-3zM856 647h2v1h-2zM814 648h1v1h-1zM815 649h2v1h-2zM850 649h3v1h-3zM820 650h3v1h-3zM844 650h3v1h-3zM826 651h3v1h-3zM832 651h2v1h-2zM840 651h1v1h-1zM834 652h1v1h-1zM838 652h2v1h-2z" fill="#FF0000"/>
<path d="M4 714h3v1h-3zM10 714h3v1h-3zM16 714h3v1h-3zM22 714h3v1h-3zM28 714h3v1h-3zM34 714h3v1h-3zM40 714h3v1h-3zM46 714h3v1h-3zM52 714h3v1h-3zM58 714h3v1h-3zM64 714h3v1h-3zM70 714h3v1h-3zM76 714h3v1h-3zM82 714h3v1h-3zM88 714h3v1h-3zM94 714h3v1h-3zM100 714h3v1h-3zM106 714h3v1h-3zM112 714h3v1h-3zM118 714h3v1h-3zM124 714h3v1h-3zM130 714h3v1h-3zM136 714h3v1h-3zM142 714h3v1h-3zM148 714h3v1h-3zM154 714h3v1h-3zM160 714h3v1h-3zM166 714h3v1h-3zM172 714h3v1h-3zM178 714h3v1h-3zM184 714h3v1h-3zM190 714h3v1h-3zM196 714h3v1h-3zM202 714h3v1h-3zM208 714h3v1h-3zM214 714h3v1h-3zM220 714h3v1h-3zM226 714h3v1h-3zM232 714h3v1h-3zM238 714h3v1h-3zM244 714h3v1h-3zM250 714h3v1h-3zM256 714h3v1h-3zM262 714h3v1h-3zM268 714h3v1h-3zM274 714h3v1h-3zM280 714h3v1h-3zM286 714h3v1h-3zM292 714h3v1h-3zM298 714h3v1h-3zM304 714h3v1h-3zM310 714h3v1h-3zM316 714h3v1h-3zM322 714h3v1h-3zM328 714h3v1h-3zM334 714h3v1h-3zM340 714h3v1h-3zM346 714h3v1h-3zM352 714h3v1h-3zM358 714h3v1h-3zM364 714h3v1h-3zM370 714h3v1h-3zM376 714h3v1h-3zM382 714h3v1h-3zM388 714h3v1h-3zM394 714h3v1h-3zM400 714h3v1h-3zM406 714h3v1h-3zM412 714h3v1h-3zM418 714h3v1h-3zM424 714h3v1h-3zM430 714h3v1h-3zM436 714h3v1h-3zM442 714h3v1h-3zM448 714h3v1h-3zM454 714h3v1h-3zM460 714h3v1h-3zM466 714h3v1h-3zM472 714h3v1h-3zM478 714h3v1h-3zM484 714h3v1h-3zM490 714h3v1h-3zM496 714h3v1h-3zM502 714h3v1h-3zM508 714h3v1h-3zM514 714h3v1h-3zM520 714h3v1h-3zM526 714h3v1h-3zM532 714h3v1h-3zM538 714h3v1h-3zM544 714h3v1h-3zM550 714h3v1h-3zM556 714h3v1h-3zM562 714h3v1h-3zM568 714h3v1h-3zM574 714h3v1h-3zM580 714h3v1h-3zM586 714h3v1h-3zM592 714h3v1h-3zM598 714h3v1h-3zM604 714h3v1h-3zM610 714h3v1h-3zM616 714h3v1h-3zM622 714h3v1h-3zM628 714h3v1h-3zM634 714h3v1h-3zM640 714h3v1h-3zM646 714h3v1h-3zM652 714h3v1h-3zM658 714h3v1h-3zM664 714h3v1h-3zM670 714h3v1h-3zM676 714h3v1h-3zM682 714h3v1h-3zM688 714h3v1h-3zM694 714h3v1h-3zM700 714h3v1h-3zM706 714h3v1h-3zM712 714h3v1h-3zM718 714h3v1h-3zM724 714h3v1h-3zM730 714h3v1h-3zM736 714h3v1h-3zM742 714h3v1h-3zM748 714h3v1h-3zM754 714h3v1h-3zM760 714h3v1h-3zM766 714h3v1h-3zM772 714h3v1h-3zM778 714h3v1h-3zM784 714h3v1h-3zM790 714h3v1h-3zM796 714h3v1h-3zM802 714h3v1h-3zM808 714h3v1h-3zM814 714h3v1h-3zM820 714h3v1h-3zM826 714h3v1h-3zM832 714h3v1h-3zM838 714h3v1h-3zM844 714h3v1h-3zM850 714h3v1h-3zM856 714h3v1h-3zM862 714h3v1h-3zM868 714h3v1h-3zM874 714h3v1h-3zM880 714h3v1h-3zM886 714h3v1h-3zM892 714h3v1h-3zM898 714h3v1h-3zM904 714h3v1h-3zM910 714h3v1h-3zM916 714h3v1h-3zM922 714h3v1h-3zM928 714h3v1h-3zM934 714h3v1h-3zM940 714h3v1h-3zM946 714h3v1h-3zM952 714h3v1h-3zM958 714h3v1h-3zM964 714h3v1h-3zM970 714h3v1h-3zM976 714h3v1h-3zM982 714h3v1h-3zM988 714h3v1h-3zM994 714h3v1h-3zM1000 714h3v1h-3zM1006 714h3v1h-3zM1012 714h3v1h-3zM1018 714h3v1h-3zM1024 714h3v1h-3zM1030 714h3v1h-3zM1036 714h3v1h-3zM1042 714h3v1h-3zM1048 714h3v1h-3zM1054 714h3v1h-3zM1060 714h3v1h-3zM1066 714h3v1h-3zM1072 714h3v1h-3zM1078 714h3v1h-3zM1084 714h3v1h-3zM1090 714h3v1h-3zM1096 714h3v1h-3zM1102 714h3v1h-3zM1108 714h3v1h-3zM1114 714h3v1h-3zM1120 714h3v1h-3zM1126 714h3v1h-3zM1132 714h3v1h-3zM1138 714h3v1h-3zM1144 714h3v1h-3zM1150 714h3v1h-3zM1156 714h3v1h-3zM1162 714h3v1h-3zM1168 714h3v1h-3zM1174 714h3v1h-3zM1180 714h3v1h-3zM1186 714h3v1h-3zM1192 714h3v1h-3zM1198 714h3v1h-3zM1204 714h3v1h-3zM1210 714h3v1h-3zM1216 714h3v1h-3zM1222 714h3v1h-3zM1228 714h3v1h-3zM1234 714h3v1h-3zM1240 714h3v1h-3zM1246 714h3v1h-3zM1252 714h3v1h-3zM1258 714h3v1h-3zM1264 714h3v1h-3zM1270 714h3v1h-3zM1276 714h3v1h-3zM1282 714h3v1h-3zM1288 714h3v1h-3zM1294 714h3v1h-3zM1300 714h3v1h-3zM1306 714h3v1h-3zM1312 714h3v1h-3zM1318 714h3v1h-3zM1324 714h3v1h-3zM1330 714h3v1h-3zM1336 714h3v1h-3zM1342 714h3v1h-3zM1348 714h3v1h-3zM1354 714h3v1h-3zM1360 714h3v1h-3zM1366 714h3v1h-3zM1372 714h3v1h-3zM1378 714h3v1h-3zM1384 714h3v1h-3zM1390 714h3v1h-3zM1396 714h3v1h-3zM1402 714h3v1h-3zM1408 714h3v1h-3zM1414 714h3v1h-3zM1420 714h3v1h-3zM1426 714h3v1h-3zM1432 714h3v1h-3zM1438 714h3v1h-3zM1444 714h3v1h-3zM1450 714h3v1h-3zM1456 714h3v1h-3zM1462 714h3v1h-3zM1468 714h3v1h-3zM1474 714h3v1h-3zM1480 714h3v1h-3zM1486 714h3v1h-3zM1492 714h3v1h-3zM1498 714h3v1h-3zM1504 714h3v1h-3zM1510 714h3v1h-3zM1516 714h3v1h-3zM1522 714h3v1h-3zM1528 714h3v1h-3zM1534 714h3v1h-3zM1540 714h3v1h-3zM1546 714h3v1h-3zM1552 714h3v1h-3zM1558 714h3v1h-3zM1564 714h3v1h-3zM1570 714h3v1h-3zM1576 714h3v1h-3zM1582 714h3v1h-3zM1588 714h3v1h-3zM1594 714h3v1h-3zM1600 714h3v1h-3zM1606 714h3v1h-3zM1612 714h3v1h-3zM1618 714h3v1h-3zM1624 714h3v1h-3zM1630 714h3v1h-3zM1636 714h3v1h-3zM1642 714h3v1h-3zM1648 714h3v1h-3zM1654 714h3v1h-3zM1660 714h3v1h-3zM1666 714h3v1h-3zM1672 714h3v1h-3zM1678 714h3v1h-3zM1684 714h3v1h-3z" fill="#C0C0C0"/>
<path d="M4 772h3v1h-3zM10 772h3v1h-3zM16 772h3v1h-3zM22 772h3v1h-3zM28 772h3v1h-3zM34 772h3v1h-3zM40 772h3v1h-3zM46 772h3v1h-3zM52 772h3v1h-3zM58 772h3v1h-3zM64 772h3v1h-3zM70 772h3v1h-3zM76 772h3v1h-3zM82 772h3v1h-3zM88 772h3v1h-3zM94 772h3v1h-3zM100 772h3v1h-3zM106 772h3v1h-3zM112 772h3v1h-3zM118 772h3v1h-3zM124 772h3v1h-3zM130 772h3v1h-3zM136 772h3v1h-3zM142 772h3v1h-3zM148 772h3v1h-3zM154 772h3v1h-3zM160 772h3v1h-3zM166 772h3v1h-3zM172 772h3v1h-3zM178 772h3v1h-3zM184 772h3v1h-3zM190 772h3v1h-3zM196 772h3v1h-3zM202 772h3v1h-3zM208 772h3v1h-3zM214 772h3v1h-3zM220 772h3v1h-3zM226 772h3v1h-3zM232 772h3v1h-3zM238 772h3v1h-3zM244 772h3v1h-3zM250 772h3v1h-3zM256 772h3v1h-3zM262 772h3v1h-3zM268 772h3v1h-3zM274 772h3v1h-3zM280 772h3v1h-3zM286 772h3v1h-3zM292 772h3v1h-3zM298 772h3v1h-3zM304 772h3v1h-3zM310 772h3v1h-3zM316 772h3v1h-3zM322 772h3v1h-3zM328 772h3v1h-3zM334 772h3v1h-3zM340 772h3v1h-3zM346 772h3v1h-3zM352 772h3v1h-3zM358 772h3v1h-3zM364 772h3v1h-3zM370 772h3v1h-3zM376 772h3v1h-3zM382 772h3v1h-3zM388 772h3v1h-3zM394 772h3v1h-3zM400 772h3v1h-3zM406 772h3v1h-3zM412 772h3v1h-3zM418 772h3v1h-3zM424 772h3v1h-3zM430 772h3v1h-3zM436 772h3v1h-3zM442 772h3v1h-3zM448 772h3v1h-3zM454 772h3v1h-3zM460 772h3v1h-3zM466 772h3v1h-3zM472 772h3v1h-3zM478 772h3v1h-3zM484 772h3v1h-3zM490 772h3v1h-3zM496 772h3v1h-3zM502 772h3v1h-3zM508 772h3v1h-3zM514 772h3v1h-3zM520 772h3v1h-3zM526 772h3v1h-3zM532 772h3v1h-3zM538 772h3v1h-3zM544 772h3v1h-3zM550 772h3v1h-3zM556 772h3v1h-3zM562 772h3v1h-3zM568 772h3v1h-3zM574 772h3v1h-3zM580 772h3v1h-3zM586 772h3v1h-3zM592 772h3v1h-3zM598 772h3v1h-3zM604 772h3v1h-3zM610 772h3v1h-3zM616 772h3v1h-3zM622 772h3v1h-3zM628 772h3v1h-3zM634 772h3v1h-3zM640 772h3v1h-3zM646 772h3v1h-3zM652 772h3v1h-3zM658 772h3v1h-3zM664 772h3v1h-3zM670 772h3v1h-3zM676 772h3v1h-3zM682 772h3v1h-3zM688 772h3v1h-3zM694 772h3v1h-3zM700 772h3v1h-3zM706 772h3v1h-3zM712 772h3v1h-3zM718 772h3v1h-3zM724 772h3v1h-3zM730 772h3v1h-3zM736 772h3v1h-3zM742 772h3v1h-3zM748 772h3v1h-3zM754 772h3v1h-3zM760 772h3v1h-3zM766 772h3v1h-3zM772 772h3v1h-3zM778 772h3v1h-3zM784 772h3v1h-3zM790 772h3v1h-3zM796 772h3v1h-3zM802 772h3v1h-3zM808 772h3v1h-3zM814 772h3v1h-3zM820 772h3v1h-3zM826 772h3v1h-3zM832 772h3v1h-3zM838 772h3v1h-3zM844 772h3v1h-3zM850 772h3v1h-3zM856 772h3v1h-3zM862 772h3v1h-3zM868 772h3v1h-3zM874 772h3v1h-3zM880 772h3v1h-3zM886 772h3v1h-3zM892 772h3v1h-3zM898 772h3v1h-3zM904 772h3v1h-3zM910 772h3v1h-3zM916 772h3v1h-3zM922 772h3v1h-3zM928 772h3v1h-3zM934 772h3v1h-3zM940 772h3v1h-3zM946 772h3v1h-3zM952 772h3v1h-3zM958 772h3v1h-3zM964 772h3v1h-3zM970 772h3v1h-3zM976 772h3v1h-3zM982 772h3v1h-3zM988 772h3v1h-3zM994 772h3v1h-3zM1000 772h3v1h-3zM1006 772h3v1h-3zM1012 772h3v1h-3zM1018 772h3v1h-3zM1024 772h3v1h-3zM1030 772h3v1h-3zM1036 772h3v1h-3zM1042 772h3v1h-3zM1048 772h3v1h-3zM1054 772h3v1h-3zM1060 772h3v1h-3zM1066 772h3v1h-3zM1072 772h3v1h-3zM1078 772h3v1h-3zM1084 772h3v1h-3zM1090 772h3v1h-3zM1096 772h3v1h-3zM1102 772h3v1h-3zM1108 772h3v1h-3zM1114 772h3v1h-3zM1120 772h3v1h-3zM1126 772h3v1h-3zM1132 772h3v1h-3zM1138 772h3v1h-3zM1144 772h3v1h-3zM1150 772h3v1h-3zM1156 772h3v1h-3zM1162 772h3v1h-3zM1168 772h3v1h-3zM1174 772h3v1h-3zM1180 772h3v1h-3zM1186 772h3v1h-3zM1192 772h3v1h-3zM1198 772h3v1h-3zM1204 772h3v1h-3zM1210 772h3v1h-3zM1216 772h3v1h-3zM1222 772h3v1h-3zM1228 772h3v1h-3zM1234 772h3v1h-3zM1240 772h3v1h-3zM1246 772h3v1h-3zM1252 772h3v1h-3zM1258 772h3v1h-3zM1264 772h3v1h-3zM1270 772h3v1h-3zM1276 772h3v1h-3zM1282 772h3v1h-3zM1288 772h3v1h-3zM1294 772h3v1h-3zM1300 772h3v1h-3zM1306 772h3v1h-3zM1312 772h3v1h-3zM1318 772h3v1h-3zM1324 772h3v1h-3zM1330 772h3v1h-3zM1336 772h3v1h-3zM1342 772h3v1h-3zM1348 772h3v1h-3zM1354 772h3v1h-3zM1360 772h3v1h-3zM1366 772h3v1h-3zM1372 772h3v1h-3zM1378 772h3v1h-3zM1384 772h3v1h-3zM1390 772h3v1h-3zM1396 772h3v1h-3zM1402 772h3v1h-3zM1408 772h3v1h-3zM1414 772h3v1h-3zM1420 772h3v1h-3zM1426 772h3v1h-3zM1432 772h3v1h-3zM1438 772h3v1h-3zM1444 772h3v1h-3zM1450 772h3v1h-3zM1456 772h3v1h-3zM1462 772h3v1h-3zM1468 772h3v1h-3zM1474 772h3v1h-3zM1480 772h3v1h-3zM1486 772h3v1h-3zM1492 772h3v1h-3zM1498 772h3v1h-3zM1504 772h3v1h-3zM1510 772h3v1h-3zM1516 772h3v1h-3zM1522 772h3v1h-3zM1528 772h3v1h-3zM1534 772h3v1h-3zM1540 772h3v1h-3zM1546 772h3v1h-3zM1552 772h3v1h-3zM1558 772h3v1h-3zM1564 772h3v1h-3zM1570 772h3v1h-3zM1576 772h3v1h-3zM1582 772h3v1h-3zM1588 772h3v1h-3zM1594 772h3v1h-3zM1600 772h3v1h-3zM1606 772h3v1h-3zM1612 772h3v1h-3zM1618 772h3v1h-3zM1624 772h3v1h-3zM1630 772h3v1h-3zM1636 772h3v1h-3zM1642 772h3v1h-3zM1648 772h3v1h-3zM1654 772h3v1h-3zM1660 772h3v1h-3zM1666 772h3v1h-3zM1672 772h3v1h-3zM1678 772h3v1h-3zM1684 772h3v1h-3z" fill="#C0C0C0"/>
<path d="M962 704h2v1h-2zM960 705h2v1h-2zM963 705h1v1h-1zM958 706h2v1h-2zM964 706h1v3h-1zM914 707h10v1h-10zM956 707h2v1h-2zM911 708h3v1h-3zM924 708h1v1h-1zM950 708h6v1h-6zM909 709h2v1h-2zM925 709h1v1h-1zM947 709h3v1h-3zM965 709h1v2h-1zM907 710h2v1h-2zM926 710h1v1h-1zM945 710h2v1h-2zM906 711h1v1h-1zM927 711h1v1h-1zM943 711h2v1h-2zM966 711h1v3h-1zM1067 711h1v1h-1zM904 712h2v1h-2zM928 712h1v1h-1zM942 712h1v1h-1zM1066 712h1v1h-1zM1068 712h1v2h-1zM903 713h1v1h-1zM929 713h1v2h-1zM940 713h2v1h-2zM1065 713h1v1h-1zM902 714h1v1h-1zM936 714h4v1h-4zM967 714h1v3h-1zM1064 714h1v2h-1zM1069 714h1v1h-1zM901 715h1v1h-1zM930 715h1v1h-1zM932 715h4v1h-4zM1070 715h1v2h-1zM1624 715h4v1h-4zM899 716h2v1h-2zM931 716h1v1h-1zM1063 716h1v1h-1zM1619 716h5v1h-5zM1628 716h2v1h-2zM898 717h1v1h-1zM968 717h1v3h-1zM1062 717h1v1h-1zM1071 717h1v1h-1zM1243 717h2v1h-2zM1617 717h2v1h-2zM1630 717h1v1h-1zM896 718h2v1h-2zM1061 718h1v1h-1zM1072 718h1v2h-1zM1242 718h1v2h-1zM1244 718h1v1h-1zM1616 718h1v1h-1zM1631 718h2v1h-2zM895 719h1v1h-1zM1051 719h1v1h-1zM1060 719h1v1h-1zM1245 719h1v1h-1zM1282 719h2v1h-2zM1614 719h2v1h-2zM1633 719h1v1h-1zM18 720h2v1h-2zM59 720h1v1h-1zM893 720h2v1h-2zM969 720h1v3h-1zM1044 720h7v1h-7zM1052 720h8v1h-8zM1073 720h1v1h-1zM1241 720h1v2h-1zM1246 720h1v1h-1zM1280 720h2v1h-2zM1284 720h1v2h-1zM1613 720h1v1h-1zM1634 720h1v1h-1zM16 721h2v1h-2zM20 721h1v1h-1zM57 721h2v1h-2zM60 721h2v1h-2zM891 721h2v1h-2zM1041 721h3v1h-3zM1074 721h1v2h-1zM1247 721h1v2h-1zM1278 721h2v1h-2zM1610 721h3v1h-3zM1635 721h2v1h-2zM13 722h3v1h-3zM21 722h1v1h-1zM56 722h1v1h-1zM62 722h2v1h-2zM889 722h2v1h-2zM1038 722h3v1h-3zM1240 722h1v2h-1zM1276 722h2v1h-2zM1285 722h1v1h-1zM1602 722h8v1h-8zM1637 722h2v1h-2zM11 723h2v1h-2zM22 723h2v1h-2zM54 723h2v1h-2zM64 723h1v1h-1zM887 723h2v1h-2zM970 723h1v3h-1zM1036 723h2v1h-2zM1075 723h1v1h-1zM1248 723h1v1h-1zM1272 723h4v1h-4zM1286 723h1v2h-1zM1600 723h2v1h-2zM1639 723h1v1h-1zM10 724h1v1h-1zM24 724h1v1h-1zM53 724h1v1h-1zM65 724h2v1h-2zM884 724h3v1h-3zM1032 724h4v1h-4zM1076 724h1v2h-1zM1107 724h1v1h-1zM1239 724h1v3h-1zM1249 724h1v1h-1zM1269 724h3v1h-3zM1598 724h2v1h-2zM1640 724h2v1h-2zM1659 724h8v1h-8zM9 725h1v1h-1zM25 725h1v1h-1zM52 725h1v1h-1zM67 725h4v1h-4zM80 725h4v1h-4zM877 725h7v1h-7zM1028 725h4v1h-4zM1100 725h7v1h-7zM1108 725h7v1h-7zM1250 725h1v2h-1zM1265 725h4v1h-4zM1287 725h1v2h-1zM1596 725h2v1h-2zM1642 725h1v1h-1zM1658 725h1v1h-1zM8 726h1v1h-1zM26 726h1v1h-1zM48 726h4v1h-4zM71 726h9v1h-9zM84 726h1v2h-1zM872 726h5v1h-5zM971 726h1v2h-1zM1026 726h2v1h-2zM1077 726h1v1h-1zM1096 726h4v1h-4zM1115 726h2v1h-2zM1178 726h2v1h-2zM1261 726h4v1h-4zM1483 726h1v1h-1zM1563 726h1v1h-1zM1590 726h6v1h-6zM1643 726h2v1h-2zM1656 726h2v1h-2zM7 727h1v1h-1zM27 727h1v1h-1zM44 727h4v1h-4zM859 727h8v1h-8zM868 727h4v1h-4zM1024 727h2v1h-2zM1078 727h1v1h-1zM1091 727h5v1h-5zM1117 727h2v1h-2zM1176 727h2v1h-2zM1180 727h1v1h-1zM1238 727h1v2h-1zM1251 727h10v1h-10zM1288 727h1v2h-1zM1482 727h1v1h-1zM1484 727h1v2h-1zM1562 727h1v1h-1zM1564 727h3v1h-3zM1577 727h13v1h-13zM1645 727h2v1h-2zM1655 727h1v1h-1zM6 728h1v1h-1zM28 728h2v1h-2zM42 728h2v1h-2zM85 728h1v3h-1zM858 728h1v2h-1zM867 728h1v1h-1zM972 728h1v1h-1zM1022 728h2v1h-2zM1079 728h1v2h-1zM1090 728h1v1h-1zM1119 728h2v1h-2zM1173 728h3v1h-3zM1181 728h1v1h-1zM1481 728h1v1h-1zM1561 728h1v1h-1zM1567 728h4v1h-4zM1572 728h5v1h-5zM1647 728h1v1h-1zM1654 728h1v1h-1zM5 729h1v1h-1zM30 729h2v1h-2zM40 729h2v1h-2zM973 729h1v1h-1zM1020 729h2v1h-2zM1089 729h1v1h-1zM1121 729h2v1h-2zM1171 729h2v1h-2zM1182 729h1v1h-1zM1237 729h1v2h-1zM1289 729h1v1h-1zM1464 729h4v1h-4zM1480 729h1v2h-1zM1485 729h1v1h-1zM1560 729h1v1h-1zM1571 729h1v1h-1zM1648 729h2v1h-2zM1653 729h1v1h-1zM4 730h1v1h-1zM32 730h1v1h-1zM38 730h2v1h-2zM857 730h1v1h-1zM974 730h2v1h-2zM1018 730h2v1h-2zM1080 730h1v1h-1zM1088 730h1v1h-1zM1123 730h4v1h-4zM1147 730h1v1h-1zM1170 730h1v1h-1zM1183 730h1v1h-1zM1290 730h1v2h-1zM1460 730h4v1h-4zM1468 730h1v1h-1zM1486 730h1v2h-1zM1559 730h1v1h-1zM1650 730h1v1h-1zM1652 730h1v1h-1zM3 731h1v1h-1zM33 731h2v1h-2zM36 731h2v1h-2zM86 731h1v2h-1zM468 731h9v1h-9zM490 731h2v1h-2zM856 731h1v2h-1zM976 731h1v1h-1zM985 731h8v1h-8zM1016 731h2v1h-2zM1081 731h1v1h-1zM1086 731h2v1h-2zM1127 731h5v1h-5zM1145 731h2v1h-2zM1148 731h1v1h-1zM1168 731h2v1h-2zM1184 731h1v2h-1zM1236 731h1v2h-1zM1446 731h14v1h-14zM1469 731h1v1h-1zM1479 731h1v1h-1zM1558 731h1v1h-1zM1651 731h1v1h-1zM35 732h1v1h-1zM467 732h1v1h-1zM477 732h4v1h-4zM486 732h4v1h-4zM492 732h1v1h-1zM977 732h1v1h-1zM983 732h2v1h-2zM993 732h14v1h-14zM1013 732h3v1h-3zM1082 732h1v2h-1zM1085 732h1v1h-1zM1132 732h2v1h-2zM1143 732h2v1h-2zM1149 732h1v1h-1zM1167 732h1v1h-1zM1291 732h1v1h-1zM1437 732h9v1h-9zM1470 732h1v1h-1zM1478 732h1v2h-1zM1487 732h1v2h-1zM1557 732h1v1h-1zM87 733h1v2h-1zM466 733h1v2h-1zM481 733h5v1h-5zM493 733h1v1h-1zM855 733h1v2h-1zM978 733h1v1h-1zM980 733h3v1h-3zM1007 733h6v1h-6zM1084 733h1v1h-1zM1134 733h3v1h-3zM1142 733h1v1h-1zM1150 733h2v1h-2zM1166 733h1v1h-1zM1185 733h1v1h-1zM1235 733h1v2h-1zM1292 733h2v1h-2zM1432 733h5v1h-5zM1471 733h2v1h-2zM1536 733h9v1h-9zM1556 733h1v1h-1zM494 734h2v1h-2zM979 734h1v1h-1zM1083 734h1v1h-1zM1137 734h2v1h-2zM1140 734h2v1h-2zM1152 734h1v1h-1zM1164 734h2v1h-2zM1186 734h1v1h-1zM1294 734h3v1h-3zM1363 734h1v1h-1zM1427 734h5v1h-5zM1473 734h1v1h-1zM1477 734h1v1h-1zM1488 734h1v2h-1zM1531 734h5v1h-5zM1545 734h11v1h-11zM88 735h1v2h-1zM465 735h1v2h-1zM496 735h1v1h-1zM506 735h3v1h-3zM854 735h1v2h-1zM1139 735h1v1h-1zM1153 735h1v1h-1zM1161 735h3v1h-3zM1187 735h1v2h-1zM1233 735h2v1h-2zM1297 735h2v1h-2zM1362 735h1v2h-1zM1364 735h4v1h-4zM1426 735h1v2h-1zM1474 735h1v1h-1zM1476 735h1v1h-1zM1530 735h1v1h-1zM497 736h1v1h-1zM503 736h3v1h-3zM509 736h3v1h-3zM1154 736h1v1h-1zM1157 736h4v1h-4zM1231 736h2v1h-2zM1299 736h9v1h-9zM1368 736h3v1h-3zM1475 736h1v1h-1zM1489 736h1v1h-1zM1528 736h2v1h-2zM89 737h1v2h-1zM464 737h1v3h-1zM498 737h1v1h-1zM500 737h3v1h-3zM512 737h3v1h-3zM853 737h1v1h-1zM1155 737h2v1h-2zM1188 737h1v1h-1zM1230 737h1v1h-1zM1308 737h1v1h-1zM1361 737h1v1h-1zM1371 737h1v1h-1zM1425 737h1v1h-1zM1490 737h1v2h-1zM1526 737h2v1h-2zM411 738h4v1h-4zM424 738h5v1h-5zM499 738h1v1h-1zM515 738h9v1h-9zM546 738h3v1h-3zM852 738h1v2h-1zM1189 738h1v2h-1zM1228 738h2v1h-2zM1309 738h1v1h-1zM1360 738h1v1h-1zM1372 738h1v1h-1zM1424 738h1v1h-1zM1524 738h2v1h-2zM90 739h1v2h-1zM410 739h1v1h-1zM415 739h3v1h-3zM421 739h3v1h-3zM429 739h2v1h-2zM442 739h2v1h-2zM524 739h2v1h-2zM544 739h2v1h-2zM549 739h1v1h-1zM1227 739h1v1h-1zM1310 739h1v1h-1zM1339 739h2v1h-2zM1359 739h1v1h-1zM1373 739h1v2h-1zM1423 739h1v1h-1zM1491 739h1v2h-1zM1523 739h1v1h-1zM409 740h1v2h-1zM418 740h3v1h-3zM431 740h1v1h-1zM440 740h2v1h-2zM444 740h1v2h-1zM463 740h1v2h-1zM526 740h3v1h-3zM542 740h2v1h-2zM550 740h1v1h-1zM851 740h1v2h-1zM1190 740h1v2h-1zM1225 740h2v1h-2zM1311 740h1v1h-1zM1338 740h1v1h-1zM1341 740h3v1h-3zM1358 740h1v1h-1zM1422 740h1v1h-1zM1522 740h1v1h-1zM91 741h1v1h-1zM105 741h3v1h-3zM432 741h2v1h-2zM438 741h2v1h-2zM529 741h2v1h-2zM540 741h2v1h-2zM551 741h1v1h-1zM1223 741h2v1h-2zM1312 741h1v1h-1zM1336 741h2v1h-2zM1344 741h2v1h-2zM1357 741h1v2h-1zM1374 741h1v1h-1zM1421 741h1v2h-1zM1492 741h1v2h-1zM1521 741h1v1h-1zM92 742h5v1h-5zM101 742h4v1h-4zM107 742h1v1h-1zM298 742h2v1h-2zM408 742h1v1h-1zM434 742h1v1h-1zM436 742h2v1h-2zM445 742h1v2h-1zM462 742h1v2h-1zM531 742h9v1h-9zM552 742h2v1h-2zM850 742h1v1h-1zM1191 742h1v2h-1zM1222 742h1v1h-1zM1313 742h1v1h-1zM1335 742h1v1h-1zM1346 742h4v1h-4zM1375 742h1v1h-1zM1520 742h1v1h-1zM97 743h4v1h-4zM108 743h1v4h-1zM297 743h1v1h-1zM300 743h1v2h-1zM407 743h1v2h-1zM435 743h1v1h-1zM554 743h1v1h-1zM698 743h2v1h-2zM849 743h1v1h-1zM1220 743h2v1h-2zM1314 743h1v1h-1zM1334 743h1v1h-1zM1350 743h4v1h-4zM1356 743h1v1h-1zM1376 743h1v2h-1zM1420 743h1v1h-1zM1493 743h1v3h-1zM1519 743h1v1h-1zM296 744h1v1h-1zM446 744h1v2h-1zM461 744h1v3h-1zM555 744h1v1h-1zM698 744h1v1h-1zM700 744h1v2h-1zM848 744h1v2h-1zM1192 744h1v2h-1zM1216 744h4v1h-4zM1315 744h1v1h-1zM1333 744h1v1h-1zM1354 744h2v1h-2zM1419 744h1v1h-1zM1518 744h1v1h-1zM295 745h1v1h-1zM301 745h1v2h-1zM406 745h1v1h-1zM556 745h1v1h-1zM697 745h1v1h-1zM1203 745h13v1h-13zM1316 745h2v1h-2zM1332 745h1v1h-1zM1377 745h1v1h-1zM1418 745h1v1h-1zM1517 745h1v1h-1zM294 746h1v1h-1zM405 746h1v2h-1zM447 746h1v1h-1zM557 746h1v1h-1zM696 746h1v2h-1zM701 746h1v2h-1zM847 746h1v1h-1zM1193 746h1v2h-1zM1201 746h2v1h-2zM1318 746h1v1h-1zM1329 746h3v1h-3zM1378 746h1v2h-1zM1416 746h2v1h-2zM1494 746h1v2h-1zM1516 746h1v1h-1zM109 747h1v4h-1zM293 747h1v1h-1zM302 747h1v2h-1zM448 747h1v2h-1zM460 747h1v2h-1zM558 747h1v1h-1zM846 747h1v1h-1zM1199 747h2v1h-2zM1319 747h2v1h-2zM1326 747h3v1h-3zM1415 747h1v1h-1zM1515 747h1v1h-1zM292 748h1v1h-1zM395 748h4v1h-4zM404 748h1v2h-1zM559 748h1v1h-1zM695 748h1v2h-1zM702 748h1v2h-1zM845 748h1v2h-1zM1194 748h1v1h-1zM1198 748h1v1h-1zM1321 748h2v1h-2zM1324 748h2v1h-2zM1379 748h1v1h-1zM1414 748h1v1h-1zM1495 748h1v3h-1zM1514 748h1v1h-1zM290 749h2v1h-2zM303 749h1v3h-1zM394 749h1v1h-1zM399 749h3v1h-3zM449 749h1v2h-1zM459 749h1v2h-1zM560 749h1v1h-1zM1195 749h3v1h-3zM1323 749h1v1h-1zM1380 749h2v1h-2zM1413 749h1v1h-1zM1513 749h1v2h-1zM288 750h2v1h-2zM393 750h1v2h-1zM402 750h2v1h-2zM458 750h1v1h-1zM561 750h1v1h-1zM694 750h1v1h-1zM703 750h1v3h-1zM844 750h1v1h-1zM1382 750h2v1h-2zM1412 750h1v1h-1zM110 751h1v4h-1zM286 751h2v1h-2zM450 751h1v2h-1zM455 751h3v1h-3zM562 751h1v2h-1zM693 751h1v2h-1zM843 751h1v1h-1zM1384 751h2v1h-2zM1408 751h4v1h-4zM1496 751h1v2h-1zM1512 751h1v1h-1zM284 752h2v1h-2zM304 752h1v2h-1zM392 752h1v1h-1zM453 752h2v1h-2zM577 752h3v1h-3zM841 752h2v1h-2zM1386 752h1v1h-1zM1389 752h13v1h-13zM1404 752h4v1h-4zM1511 752h1v1h-1zM282 753h2v1h-2zM391 753h1v2h-1zM451 753h2v1h-2zM563 753h6v1h-6zM573 753h4v1h-4zM580 753h2v1h-2zM610 753h3v1h-3zM692 753h1v1h-1zM704 753h1v2h-1zM839 753h2v1h-2zM1387 753h2v1h-2zM1402 753h2v1h-2zM1497 753h1v2h-1zM1510 753h1v2h-1zM280 754h2v1h-2zM305 754h1v2h-1zM569 754h4v1h-4zM582 754h1v1h-1zM607 754h3v1h-3zM613 754h2v1h-2zM691 754h1v2h-1zM837 754h2v1h-2zM111 755h1v4h-1zM266 755h4v1h-4zM278 755h2v1h-2zM390 755h1v1h-1zM583 755h1v1h-1zM605 755h2v1h-2zM615 755h2v1h-2zM690 755h1v1h-1zM705 755h1v2h-1zM836 755h1v1h-1zM1498 755h1v3h-1zM1509 755h1v1h-1zM263 756h3v1h-3zM270 756h4v1h-4zM276 756h2v1h-2zM306 756h1v2h-1zM389 756h1v2h-1zM584 756h1v1h-1zM603 756h2v1h-2zM617 756h2v1h-2zM689 756h1v1h-1zM835 756h1v1h-1zM1508 756h1v1h-1zM261 757h2v1h-2zM274 757h2v1h-2zM585 757h2v1h-2zM602 757h1v1h-1zM619 757h5v1h-5zM687 757h2v1h-2zM706 757h1v2h-1zM834 757h1v2h-1zM1507 757h1v1h-1zM129 758h5v1h-5zM259 758h2v1h-2zM307 758h1v1h-1zM388 758h1v2h-1zM587 758h1v1h-1zM601 758h1v1h-1zM624 758h5v1h-5zM686 758h1v1h-1zM1499 758h8v1h-8zM112 759h1v4h-1zM127 759h2v1h-2zM134 759h2v1h-2zM151 759h5v1h-5zM259 759h1v1h-1zM308 759h3v1h-3zM588 759h2v1h-2zM599 759h2v1h-2zM629 759h5v1h-5zM658 759h3v1h-3zM684 759h2v1h-2zM707 759h1v2h-1zM833 759h1v2h-1zM125 760h2v1h-2zM136 760h2v1h-2zM144 760h7v1h-7zM156 760h2v1h-2zM193 760h3v1h-3zM258 760h1v2h-1zM311 760h4v1h-4zM386 760h2v1h-2zM590 760h2v1h-2zM598 760h1v1h-1zM634 760h3v1h-3zM655 760h3v1h-3zM661 760h3v1h-3zM682 760h2v1h-2zM123 761h2v1h-2zM138 761h6v1h-6zM158 761h1v1h-1zM191 761h2v1h-2zM196 761h1v2h-1zM315 761h6v1h-6zM383 761h3v1h-3zM592 761h2v1h-2zM597 761h1v1h-1zM637 761h1v1h-1zM652 761h3v1h-3zM664 761h3v1h-3zM680 761h2v1h-2zM708 761h1v2h-1zM832 761h1v2h-1zM122 762h1v2h-1zM159 762h1v1h-1zM190 762h1v1h-1zM257 762h1v2h-1zM321 762h3v1h-3zM370 762h6v1h-6zM381 762h2v1h-2zM594 762h1v1h-1zM596 762h1v1h-1zM638 762h2v1h-2zM650 762h2v1h-2zM667 762h5v1h-5zM677 762h3v1h-3zM113 763h1v3h-1zM160 763h2v1h-2zM188 763h2v1h-2zM197 763h1v2h-1zM324 763h1v1h-1zM368 763h2v1h-2zM376 763h5v1h-5zM595 763h1v1h-1zM640 763h1v1h-1zM647 763h3v1h-3zM672 763h5v1h-5zM709 763h1v1h-1zM831 763h1v2h-1zM121 764h1v1h-1zM162 764h1v1h-1zM186 764h2v1h-2zM256 764h1v2h-1zM325 764h1v1h-1zM367 764h1v1h-1zM641 764h2v1h-2zM644 764h3v1h-3zM710 764h1v2h-1zM120 765h1v1h-1zM163 765h5v1h-5zM184 765h2v1h-2zM198 765h1v2h-1zM326 765h1v1h-1zM365 765h2v1h-2zM643 765h1v1h-1zM830 765h1v2h-1zM114 766h1v4h-1zM119 766h1v2h-1zM168 766h5v1h-5zM182 766h2v1h-2zM255 766h1v3h-1zM327 766h2v1h-2zM364 766h1v1h-1zM711 766h1v2h-1zM173 767h4v1h-4zM181 767h1v1h-1zM199 767h1v2h-1zM329 767h1v1h-1zM363 767h1v1h-1zM779 767h2v1h-2zM829 767h1v2h-1zM118 768h1v1h-1zM177 768h4v1h-4zM330 768h1v1h-1zM362 768h1v1h-1zM712 768h1v1h-1zM777 768h2v1h-2zM781 768h2v1h-2zM117 769h1v1h-1zM200 769h1v2h-1zM254 769h1v2h-1zM331 769h1v1h-1zM361 769h1v2h-1zM713 769h1v2h-1zM763 769h2v1h-2zM776 769h1v1h-1zM783 769h2v1h-2zM828 769h1v2h-1zM115 770h2v1h-2zM332 770h5v1h-5zM762 770h1v2h-1zM765 770h2v1h-2zM774 770h2v1h-2zM785 770h1v1h-1zM115 771h2v1h-2zM201 771h1v2h-1zM253 771h1v2h-1zM337 771h3v1h-3zM360 771h1v2h-1zM714 771h1v1h-1zM767 771h2v1h-2zM773 771h1v1h-1zM786 771h2v1h-2zM827 771h1v1h-1zM235 772h2v1h-2zM340 772h1v1h-1zM715 772h1v1h-1zM761 772h1v2h-1zM769 772h2v1h-2zM772 772h1v1h-1zM788 772h1v1h-1zM826 772h1v2h-1zM202 773h1v2h-1zM234 773h1v1h-1zM237 773h3v1h-3zM252 773h1v2h-1zM341 773h1v1h-1zM359 773h1v2h-1zM716 773h3v1h-3zM771 773h1v1h-1zM789 773h2v1h-2zM233 774h1v1h-1zM240 774h3v1h-3zM342 774h1v1h-1zM719 774h3v1h-3zM760 774h1v2h-1zM791 774h1v1h-1zM825 774h1v1h-1zM203 775h1v1h-1zM232 775h1v1h-1zM243 775h5v1h-5zM251 775h1v1h-1zM343 775h1v1h-1zM358 775h1v1h-1zM722 775h10v1h-10zM792 775h2v1h-2zM824 775h1v1h-1zM204 776h1v1h-1zM231 776h1v1h-1zM248 776h3v1h-3zM344 776h1v1h-1zM357 776h1v2h-1zM732 776h1v1h-1zM759 776h1v2h-1zM794 776h1v1h-1zM823 776h1v1h-1zM205 777h2v1h-2zM230 777h1v1h-1zM345 777h1v1h-1zM733 777h1v1h-1zM795 777h10v1h-10zM822 777h1v1h-1zM207 778h1v1h-1zM229 778h1v1h-1zM346 778h1v1h-1zM356 778h1v2h-1zM734 778h2v1h-2zM758 778h1v2h-1zM805 778h2v1h-2zM821 778h1v2h-1zM208 779h1v1h-1zM228 779h1v1h-1zM347 779h5v1h-5zM736 779h1v1h-1zM807 779h2v1h-2zM209 780h2v1h-2zM226 780h2v1h-2zM352 780h4v1h-4zM737 780h1v1h-1zM757 780h1v1h-1zM809 780h2v1h-2zM820 780h1v1h-1zM211 781h2v1h-2zM224 781h2v1h-2zM738 781h1v1h-1zM756 781h1v2h-1zM811 781h9v1h-9zM213 782h4v1h-4zM221 782h3v1h-3zM739 782h3v1h-3zM217 783h4v1h-4zM742 783h4v1h-4zM755 783h1v1h-1zM746 784h9v1h-9z" fill="#1E90FF"/>
<rect x="2" y="1" width="1687" height="1" fill="#000"/>
<rect x="2" y="1" width="1" height="817" fill="#000"/>
<rect x="1688" y="1" width="1" height="817" fill="#000"/>
<rect x="2" y="502" width="1687" height="1" fill="#000"/>
<rect x="2" y="504" width="1687" height="1" fill="#000"/>
<rect x="2" y="666" width="1687" height="1" fill="#000"/>
<rect x="2" y="668" width="1687" height="1" fill="#000"/>
<rect x="2" y="817" width="1687" height="1" fill="#000"/>
<rect x="2" y="503" width="1" height="1" fill="#fff"/>
<rect x="2" y="667" width="1" height="1" fill="#fff"/>
<rect x="1688" y="503" width="1" height="1" fill="#fff"/>
<rect x="1688" y="667" width="1" height="1" fill="#fff"/>
<rect x="1689" y="4" width="2" height="1" fill="#000"/>
<rect x="1689" y="37" width="2" height="1" fill="#000"/>
<rect x="1689" y="70" width="2" height="1" fill="#000"/>
<rect x="1689" y="103" width="2" height="1" fill="#000"/>
<rect x="1689" y="136" width="2" height="1" fill="#000"/>
<rect x="1689" y="169" width="2" height="1" fill="#000"/>
<rect x="1689" y="202" width="2" height="1" fill="#000"/>
<rect x="1689" y="235" width="2" height="1" fill="#000"/>
<rect x="1689" y="268" width="2" height="1" fill="#000"/>
<rect x="1689" y="301" width="2" height="1" fill="#000"/>
<rect x="1689" y="334" width="2" height="1" fill="#000"/>
<rect x="1689" y="367" width="2" height="1" fill="#000"/>
<rect x="1689" y="400" width="2" height="1" fill="#000"/>
<rect x="1689" y="433" width="2" height="1" fill="#000"/>
<rect x="1689" y="466" width="2" height="1" fill="#000"/>
<rect x="1689" y="499" width="2" height="1" fill="#000"/>
<rect x="1689" y="506" width="1" height="1" fill="#000"/>
<rect x="1689" y="585" width="1" height="1" fill="#000"/>
<rect x="1689" y="665" width="1" height="1" fill="#000"/>
<rect x="1689" y="670" width="1" height="1" fill="#000"/>
<rect x="1689" y="816" width="1" height="1" fill="#000"/>
<rect x="3" y="818" width="1" height="3" fill="#000"/>
<rect x="67" y="818" width="1" height="3" fill="#000"/>
<rect x="131" y="818" width="1" height="3" fill="#000"/>
<rect x="195" y="818" width="1" height="3" fill="#000"/>
<rect x="259" y="818" width="1" height="3" fill="#000"/>
<rect x="323" y="818" width="1" height="3" fill="#000"/>
<rect x="387" y="818" width="1" height="3" fill="#000"/>
<rect x="451" y="818" width="1" height="3" fill="#000"/>
<rect x="515" y="818" width="1" height="3" fill="#000"/>
<rect x="579" y="818" width="1" height="3" fill="#000"/>
<rect x="643" y="818" width="1" height="3" fill="#000"/>
<rect x="707" y="818" width="1" height="3" fill="#000"/>
<rect x="771" y="818" width="1" height="3" fill="#000"/>
<rect x="835" y="818" width="1" height="3" fill="#000"/>
<rect x="899" y="818" width="1" height="3" fill="#000"/>
<rect x="963" y="818" width="1" height="3" fill="#000"/>
<rect x="1027" y="818" width="1" height="3" fill="#000"/>
<rect x="1091" y="818" width="1" height="3" fill="#000"/>
<rect x="1155" y="818" width="1" height="3" fill="#000"/>
<rect x="1219" y="818" width="1" height="3" fill="#000"/>
<rect x="1283" y="818" width="1" height="3" fill="#000"/>
<rect x="1347" y="818" width="1" height="3" fill="#000"/>
<rect x="1411" y="818" width="1" height="3" fill="#000"/>
<rect x="1475" y="818" width="1" height="3" fill="#000"/>
<rect x="1539" y="818" width="1" height="3" fill="#000"/>
<rect x="1603" y="818" width="1" height="3" fill="#000"/>
<rect x="1667" y="818" width="1" height="3" fill="#000"/>
<polygon points="6,8 13,8 9.5,12" fill="#000"/>
</g>
<text x="1694" y="8.4" textLength="27.7" lengthAdjust="spacingAndGlyphs">76.130</text>
<text x="1694" y="41.4" textLength="27.7" lengthAdjust="spacingAndGlyphs">75.370</text>
<text x="1694" y="74.4" textLength="27.7" lengthAdjust="spacingAndGlyphs">74.610</text>
<text x="1694" y="140.4" textLength="27.7" lengthAdjust="spacingAndGlyphs">73.090</text>
<text x="1694" y="173.4" textLength="27.7" lengthAdjust="spacingAndGlyphs">72.330</text>
<text x="1694" y="206.4" textLength="27.7" lengthAdjust="spacingAndGlyphs">71.590</text>
<text x="1694" y="239.4" textLength="27.7" lengthAdjust="spacingAndGlyphs">70.830</text>
<text x="1694" y="272.4" textLength="27.7" lengthAdjust="spacingAndGlyphs">70.070</text>
<text x="1694" y="305.4" textLength="27.7" lengthAdjust="spacingAndGlyphs">69.310</text>
<text x="1694" y="371.4" textLength="27.7" lengthAdjust="spacingAndGlyphs">67.790</text>
<text x="1694" y="404.4" textLength="27.7" lengthAdjust="spacingAndGlyphs">67.030</text>
<text x="1694" y="437.4" textLength="27.7" lengthAdjust="spacingAndGlyphs">66.290</text>
<text x="1694" y="470.4" textLength="27.7" lengthAdjust="spacingAndGlyphs">65.530</text>
<text x="1694" y="503.4" textLength="27.7" lengthAdjust="spacingAndGlyphs">64.770</text>
<g shape-rendering="crispEdges">
<rect x="1690" y="47" width="33" height="11" fill="#FF0000"/>
<rect x="1690" y="96" width="33" height="11" fill="#000"/>
<rect x="1690" y="134" width="33" height="11" fill="#2CCB2C"/>
<rect x="1690" y="221" width="33" height="11" fill="#4169E1"/>
<rect x="1690" y="330" width="33" height="11" fill="#4169E1"/>
<rect x="1690" y="439" width="33" height="11" fill="#4169E1"/>
</g>
<text x="1694" y="56.4" textLength="27.7" lengthAdjust="spacingAndGlyphs" class="w">75.000</text>
<text x="1694" y="105.4" textLength="27.7" lengthAdjust="spacingAndGlyphs" class="w">73.890</text>
<text x="1694" y="143.4" textLength="27.7" lengthAdjust="spacingAndGlyphs" class="w">73.000</text>
<text x="1694" y="230.4" textLength="27.7" lengthAdjust="spacingAndGlyphs" class="w">71.000</text>
<text x="1694" y="339.4" textLength="27.7" lengthAdjust="spacingAndGlyphs" class="w">68.500</text>
<text x="1694" y="448.4" textLength="27.7" lengthAdjust="spacingAndGlyphs" class="w">66.000</text>
<text x="1692.5" y="515" textLength="27.7" lengthAdjust="spacingAndGlyphs">1.2172</text>
<text x="1692.4" y="588.8" textLength="17.4" lengthAdjust="spacingAndGlyphs">0.00</text>
<text x="1692.4" y="663.2" textLength="30.2" lengthAdjust="spacingAndGlyphs">-1.2479</text>
<text x="1691.8" y="679" textLength="14.6" lengthAdjust="spacingAndGlyphs">100</text>
<text x="1691.2" y="718.6" textLength="9.6" lengthAdjust="spacingAndGlyphs">70</text>
<text x="1691.2" y="776.6" textLength="9.6" lengthAdjust="spacingAndGlyphs">30</text>
<text x="1692.4" y="814.4" textLength="4.6" lengthAdjust="spacingAndGlyphs">0</text>
<text x="18.6" y="13.4" textLength="42.4" lengthAdjust="spacingAndGlyphs">UKOil-,H4</text>
<text x="67.3" y="13.4" textLength="27.6" lengthAdjust="spacingAndGlyphs">73.890</text>
<text x="98.19999999999999" y="13.4" textLength="27.6" lengthAdjust="spacingAndGlyphs">73.890</text>
<text x="129.1" y="13.4" textLength="27.6" lengthAdjust="spacingAndGlyphs">73.890</text>
<text x="160.0" y="13.4" textLength="27.6" lengthAdjust="spacingAndGlyphs">73.890</text>
<text x="7.2" y="517.2" textLength="64.8" lengthAdjust="spacingAndGlyphs">MACD(12,26,9)</text>
<text x="75.8" y="517.2" textLength="27.4" lengthAdjust="spacingAndGlyphs">0.3973</text>
<text x="106.5" y="517.2" textLength="28.1" lengthAdjust="spacingAndGlyphs">0.3953</text>
<text x="7.0" y="680.8" textLength="31.8" lengthAdjust="spacingAndGlyphs">RSI(14)</text>
<text x="41.6" y="680.8" textLength="33.1" lengthAdjust="spacingAndGlyphs">62.7702</text>
<text x="2.0" y="830.2" textLength="45.4" lengthAdjust="spacingAndGlyphs">29 Jul 2021</text>
<text x="66.0" y="830.2" textLength="55.4" lengthAdjust="spacingAndGlyphs">30 Jul 16:00</text>
<text x="130.0" y="830.2" textLength="50.1" lengthAdjust="spacingAndGlyphs">2 Aug 20:00</text>
<text x="194.0" y="830.2" textLength="50.1" lengthAdjust="spacingAndGlyphs">4 Aug 04:00</text>
<text x="258.0" y="830.2" textLength="50.1" lengthAdjust="spacingAndGlyphs">5 Aug 12:00</text>
<text x="322.0" y="830.2" textLength="50.1" lengthAdjust="spacingAndGlyphs">6 Aug 20:00</text>
<text x="386.0" y="830.2" textLength="55.4" lengthAdjust="spacingAndGlyphs">10 Aug 00:00</text>
<text x="450.0" y="830.2" textLength="55.4" lengthAdjust="spacingAndGlyphs">11 Aug 08:00</text>
<text x="514.0" y="830.2" textLength="55.4" lengthAdjust="spacingAndGlyphs">12 Aug 16:00</text>
<text x="578.0" y="830.2" textLength="55.4" lengthAdjust="spacingAndGlyphs">15 Aug 23:00</text>
<text x="642.0" y="830.2" textLength="55.4" lengthAdjust="spacingAndGlyphs">17 Aug 04:00</text>
<text x="706.0" y="830.2" textLength="55.4" lengthAdjust="spacingAndGlyphs">18 Aug 12:00</text>
<text x="770.0" y="830.2" textLength="55.4" lengthAdjust="spacingAndGlyphs">19 Aug 20:00</text>
<text x="834.0" y="830.2" textLength="55.4" lengthAdjust="spacingAndGlyphs">23 Aug 00:00</text>
<text x="898.0" y="830.2" textLength="55.4" lengthAdjust="spacingAndGlyphs">24 Aug 08:00</text>
<text x="962.0" y="830.2" textLength="55.4" lengthAdjust="spacingAndGlyphs">25 Aug 16:00</text>
<text x="1026.0" y="830.2" textLength="55.4" lengthAdjust="spacingAndGlyphs">27 Aug 04:00</text>
<text x="1090.0" y="830.2" textLength="55.4" lengthAdjust="spacingAndGlyphs">30 Aug 08:00</text>
<text x="1154.0" y="830.2" textLength="55.4" lengthAdjust="spacingAndGlyphs">31 Aug 16:00</text>
<text x="1218.0" y="830.2" textLength="50.1" lengthAdjust="spacingAndGlyphs">2 Sep 00:00</text>
<text x="1282.0" y="830.2" textLength="50.1" lengthAdjust="spacingAndGlyphs">3 Sep 08:00</text>
<text x="1346.0" y="830.2" textLength="50.1" lengthAdjust="spacingAndGlyphs">6 Sep 12:00</text>
<text x="1410.0" y="830.2" textLength="50.1" lengthAdjust="spacingAndGlyphs">8 Sep 00:00</text>
<text x="1474.0" y="830.2" textLength="50.1" lengthAdjust="spacingAndGlyphs">9 Sep 04:00</text>
<text x="1538.0" y="830.2" textLength="55.4" lengthAdjust="spacingAndGlyphs">10 Sep 12:00</text>
<text x="1602.0" y="830.2" textLength="55.4" lengthAdjust="spacingAndGlyphs">13 Sep 16:00</text>
<text x="1666.0" y="830.2" textLength="54.8" lengthAdjust="spacingAndGlyphs">14 Sep 21:15</text>
<text class="cn" x="1287.2" y="402.6">多空转折点<tspan x="1469.3" dy="-1.6" font-size="38.5" letter-spacing="0">73</tspan></text>
</svg></body></html>
